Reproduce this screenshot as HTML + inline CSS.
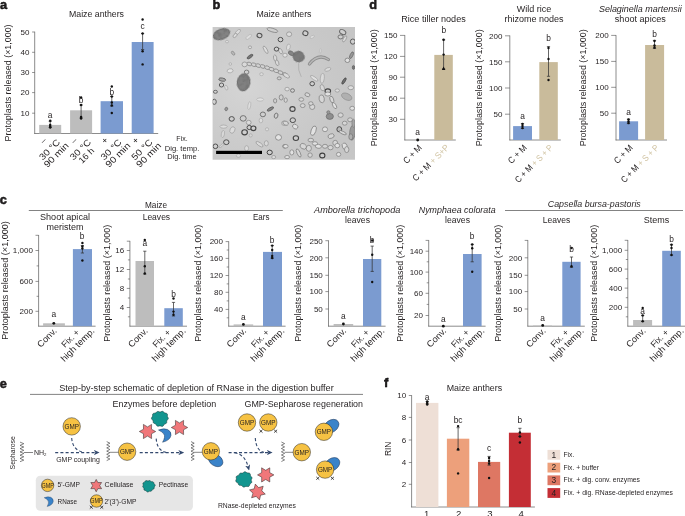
<!DOCTYPE html>
<html><head><meta charset="utf-8"><title>Figure</title>
<style>
html,body{margin:0;padding:0;background:#fff;}
body{width:685px;height:516px;overflow:hidden;font-family:"Liberation Sans",sans-serif;}
svg{display:block;will-change:transform;filter:opacity(1)}
svg text{font-family:"Liberation Sans",sans-serif;fill:#231f20;}
</style></head><body>
<svg width="685" height="516" viewBox="0 0 685 516">
<defs>
<clipPath id="clipb"><rect x="212.6" y="27" width="142.4" height="132.8"/></clipPath>
<radialGradient id="gradb" cx="0.25" cy="0.45" r="0.8"><stop offset="0" stop-color="#d6d6d6" stop-opacity="0.9"/><stop offset="1" stop-color="#c2c2c2" stop-opacity="0.6"/></radialGradient>
<filter id="soft" x="-2%" y="-2%" width="104%" height="104%"><feGaussianBlur stdDeviation="0.35"/></filter>
<filter id="tex" x="-10%" y="-10%" width="120%" height="120%"><feTurbulence type="fractalNoise" baseFrequency="0.28" numOctaves="2" seed="4" result="n"/><feColorMatrix in="n" type="matrix" values="0 0 0 0 0.18  0 0 0 0 0.18  0 0 0 0 0.18  4 0 0 0 -1.7" result="a"/><feComposite in="a" in2="SourceAlpha" operator="in" result="m"/><feMerge><feMergeNode in="SourceGraphic"/><feMergeNode in="m"/></feMerge></filter>
<marker id="arr" viewBox="0 0 6 6" refX="1.5" refY="3" markerWidth="5.2" markerHeight="5.2" orient="auto"><path d="M0 0.3 L6 3 L0 5.7 L1.6 3 Z" fill="#33496e"/></marker>
</defs>
<rect width="685" height="516" fill="#fff"/>
<text x="0.00" y="9.30" font-size="12.8" font-weight="bold" fill="#000" stroke="#000" stroke-width="0.45" stroke-linejoin="round">a</text>
<text x="96.50" y="17.30" font-size="8.4" text-anchor="middle" textLength="55.0" lengthAdjust="spacingAndGlyphs">Maize anthers</text>
<text x="11.20" y="141.40" font-size="8.4" transform="rotate(-90 11.20 141.40)" textLength="117.0" lengthAdjust="spacingAndGlyphs">Protoplasts released (×1,000)</text>
<line x1="34.70" y1="31.70" x2="34.70" y2="133.83" stroke="#4d4d4d" stroke-width="0.65"/>
<line x1="34.37" y1="133.50" x2="158.20" y2="133.50" stroke="#4d4d4d" stroke-width="0.65"/>
<line x1="32.10" y1="32.00" x2="34.70" y2="32.00" stroke="#4d4d4d" stroke-width="0.6"/>
<text x="29.50" y="34.80" font-size="8.0" text-anchor="end">50</text>
<line x1="32.10" y1="52.30" x2="34.70" y2="52.30" stroke="#4d4d4d" stroke-width="0.6"/>
<text x="29.50" y="55.10" font-size="8.0" text-anchor="end">40</text>
<line x1="32.10" y1="72.50" x2="34.70" y2="72.50" stroke="#4d4d4d" stroke-width="0.6"/>
<text x="29.50" y="75.30" font-size="8.0" text-anchor="end">30</text>
<line x1="32.10" y1="92.60" x2="34.70" y2="92.60" stroke="#4d4d4d" stroke-width="0.6"/>
<text x="29.50" y="95.40" font-size="8.0" text-anchor="end">20</text>
<line x1="32.10" y1="113.20" x2="34.70" y2="113.20" stroke="#4d4d4d" stroke-width="0.6"/>
<text x="29.50" y="116.00" font-size="8.0" text-anchor="end">10</text>
<rect x="39.20" y="124.90" width="22.00" height="8.60" fill="#bdbdbd"/>
<rect x="70.10" y="110.30" width="22.00" height="23.20" fill="#bdbdbd"/>
<rect x="100.60" y="101.20" width="22.40" height="32.30" fill="#7b9bd0"/>
<rect x="131.70" y="42.00" width="21.90" height="91.50" fill="#7b9bd0"/>
<line x1="50.20" y1="121.20" x2="50.20" y2="127.50" stroke="#333" stroke-width="0.75"/>
<line x1="48.60" y1="121.20" x2="51.80" y2="121.20" stroke="#2a2a2a" stroke-width="0.7"/>
<line x1="48.60" y1="127.50" x2="51.80" y2="127.50" stroke="#2a2a2a" stroke-width="0.7"/>
<circle cx="50.20" cy="120.80" r="1.2" fill="#111"/>
<circle cx="50.20" cy="125.00" r="1.2" fill="#111"/>
<circle cx="50.20" cy="126.50" r="1.2" fill="#111"/>
<circle cx="50.20" cy="127.50" r="1.2" fill="#111"/>
<line x1="81.10" y1="105.00" x2="81.10" y2="118.00" stroke="#333" stroke-width="0.75"/>
<line x1="79.50" y1="105.00" x2="82.70" y2="105.00" stroke="#2a2a2a" stroke-width="0.7"/>
<line x1="79.50" y1="118.00" x2="82.70" y2="118.00" stroke="#2a2a2a" stroke-width="0.7"/>
<circle cx="81.10" cy="97.50" r="1.2" fill="#111"/>
<circle cx="81.10" cy="105.00" r="1.2" fill="#111"/>
<circle cx="81.10" cy="117.00" r="1.2" fill="#111"/>
<circle cx="81.10" cy="118.50" r="1.2" fill="#111"/>
<line x1="111.80" y1="96.50" x2="111.80" y2="106.00" stroke="#333" stroke-width="0.75"/>
<line x1="110.20" y1="96.50" x2="113.40" y2="96.50" stroke="#2a2a2a" stroke-width="0.7"/>
<line x1="110.20" y1="106.00" x2="113.40" y2="106.00" stroke="#2a2a2a" stroke-width="0.7"/>
<circle cx="111.80" cy="86.50" r="1.2" fill="#111"/>
<circle cx="111.80" cy="96.50" r="1.2" fill="#111"/>
<circle cx="111.80" cy="102.50" r="1.2" fill="#111"/>
<circle cx="111.80" cy="105.50" r="1.2" fill="#111"/>
<circle cx="111.80" cy="113.00" r="1.2" fill="#111"/>
<line x1="142.60" y1="33.50" x2="142.60" y2="49.50" stroke="#333" stroke-width="0.75"/>
<line x1="141.00" y1="33.50" x2="144.20" y2="33.50" stroke="#2a2a2a" stroke-width="0.7"/>
<line x1="141.00" y1="49.50" x2="144.20" y2="49.50" stroke="#2a2a2a" stroke-width="0.7"/>
<circle cx="142.60" cy="19.50" r="1.2" fill="#111"/>
<circle cx="142.60" cy="33.50" r="1.2" fill="#111"/>
<circle cx="142.60" cy="51.30" r="1.2" fill="#111"/>
<circle cx="142.60" cy="64.40" r="1.2" fill="#111"/>
<text x="50.20" y="117.60" font-size="8.4" text-anchor="middle">a</text>
<text x="81.10" y="102.70" font-size="8.4" text-anchor="middle">b</text>
<text x="111.80" y="94.60" font-size="8.4" text-anchor="middle">b</text>
<text x="142.60" y="29.30" font-size="8.4" text-anchor="middle">c</text>
<text x="45.20" y="142.70" font-size="9" text-anchor="middle" transform="rotate(-45 45.20 142.70)">–</text>
<text x="60.70" y="142.70" font-size="9" text-anchor="end" transform="rotate(-45 60.70 142.70)" textLength="25.5" lengthAdjust="spacingAndGlyphs">30 °C</text>
<text x="69.40" y="146.20" font-size="9" text-anchor="end" transform="rotate(-45 69.40 146.20)" textLength="31.0" lengthAdjust="spacingAndGlyphs">90 min</text>
<text x="76.10" y="142.70" font-size="9" text-anchor="middle" transform="rotate(-45 76.10 142.70)">–</text>
<text x="91.60" y="142.70" font-size="9" text-anchor="end" transform="rotate(-45 91.60 142.70)" textLength="25.5" lengthAdjust="spacingAndGlyphs">30 °C</text>
<text x="88.50" y="157.70" font-size="9" text-anchor="middle" transform="rotate(-45 88.50 157.70)" textLength="18.0" lengthAdjust="spacingAndGlyphs">16 h</text>
<text x="106.80" y="142.70" font-size="9" text-anchor="middle" transform="rotate(-45 106.80 142.70)">+</text>
<text x="122.30" y="142.70" font-size="9" text-anchor="end" transform="rotate(-45 122.30 142.70)" textLength="25.5" lengthAdjust="spacingAndGlyphs">30 °C</text>
<text x="131.00" y="146.20" font-size="9" text-anchor="end" transform="rotate(-45 131.00 146.20)" textLength="31.0" lengthAdjust="spacingAndGlyphs">90 min</text>
<text x="137.60" y="142.70" font-size="9" text-anchor="middle" transform="rotate(-45 137.60 142.70)">+</text>
<text x="153.10" y="142.70" font-size="9" text-anchor="end" transform="rotate(-45 153.10 142.70)" textLength="25.5" lengthAdjust="spacingAndGlyphs">50 °C</text>
<text x="161.80" y="146.20" font-size="9" text-anchor="end" transform="rotate(-45 161.80 146.20)" textLength="31.0" lengthAdjust="spacingAndGlyphs">90 min</text>
<text x="182.00" y="141.30" font-size="7" text-anchor="middle">Fix.</text>
<text x="182.00" y="150.50" font-size="7" text-anchor="middle" textLength="34.5" lengthAdjust="spacingAndGlyphs">Dig. temp.</text>
<text x="182.00" y="159.20" font-size="7" text-anchor="middle" textLength="29.5" lengthAdjust="spacingAndGlyphs">Dig. time</text>
<text x="212.50" y="9.30" font-size="12.8" font-weight="bold" fill="#000" stroke="#000" stroke-width="0.45" stroke-linejoin="round">b</text>
<text x="284.00" y="17.30" font-size="8.4" text-anchor="middle" textLength="55.0" lengthAdjust="spacingAndGlyphs">Maize anthers</text>
<g clip-path="url(#clipb)"><g filter="url(#soft)">
<rect x="210.60" y="25.00" width="146.40" height="136.80" fill="#cbcbcb"/>
<rect x="212.6" y="27" width="142.4" height="132.8" fill="url(#gradb)"/>
<ellipse cx="221.5" cy="34.2" rx="8.6" ry="5.0" transform="rotate(-20 221.5 34.2)" fill="#838383" stroke="#5a5a5a" stroke-width="0.8" filter="url(#tex)"/>
<ellipse cx="243.6" cy="82.3" rx="6.3" ry="8.6" transform="rotate(8 243.6 82.3)" fill="#808080" stroke="#5a5a5a" stroke-width="0.8" filter="url(#tex)"/>
<ellipse cx="298.6" cy="56.6" rx="5.6" ry="5.2" transform="rotate(20 298.6 56.6)" fill="#7a7a7a" stroke="#5a5a5a" stroke-width="0.8" filter="url(#tex)"/>
<ellipse cx="291.1" cy="53.2" rx="3" ry="2" transform="rotate(30 291.1 53.2)" fill="#858585" stroke="#606060" stroke-width="0.6" opacity="1"/>
<path d="M309.4 64.0 Q318.3 52.9 328.4 59.5" fill="none" stroke="#8e8e8e" stroke-width="3.2" stroke-linecap="round"/>
<path d="M309.4 64.0 Q318.3 52.9 328.4 59.5" fill="none" stroke="#b8b8b8" stroke-width="1.4" stroke-linecap="round"/>
<path d="M298.6 63.3 Q297.6 70.1 301.3 76.9" fill="none" stroke="#999" stroke-width="0.5"/>
<ellipse cx="249.3" cy="64.0" rx="2.6" ry="1.7" transform="rotate(18 249.3 64.0)" fill="#d3d3d3" stroke="#808080" stroke-width="0.7"/>
<ellipse cx="253.8" cy="64.7" rx="2.6" ry="1.7" transform="rotate(18 253.8 64.7)" fill="#d3d3d3" stroke="#808080" stroke-width="0.7"/>
<ellipse cx="258.3" cy="65.6" rx="2.6" ry="1.7" transform="rotate(18 258.3 65.6)" fill="#d3d3d3" stroke="#808080" stroke-width="0.7"/>
<ellipse cx="262.7" cy="66.5" rx="2.6" ry="1.7" transform="rotate(18 262.7 66.5)" fill="#d3d3d3" stroke="#808080" stroke-width="0.7"/>
<ellipse cx="267.2" cy="67.7" rx="2.6" ry="1.7" transform="rotate(18 267.2 67.7)" fill="#d3d3d3" stroke="#808080" stroke-width="0.7"/>
<ellipse cx="271.6" cy="69.2" rx="2.6" ry="1.7" transform="rotate(18 271.6 69.2)" fill="#d3d3d3" stroke="#808080" stroke-width="0.7"/>
<ellipse cx="276.1" cy="70.8" rx="2.6" ry="1.7" transform="rotate(18 276.1 70.8)" fill="#d3d3d3" stroke="#808080" stroke-width="0.7"/>
<ellipse cx="280.5" cy="72.6" rx="2.6" ry="1.7" transform="rotate(18 280.5 72.6)" fill="#d3d3d3" stroke="#808080" stroke-width="0.7"/>
<ellipse cx="285.0" cy="74.5" rx="2.6" ry="1.7" transform="rotate(18 285.0 74.5)" fill="#d3d3d3" stroke="#808080" stroke-width="0.7"/>
<ellipse cx="277.1" cy="62.7" rx="3" ry="1.6" transform="rotate(70 277.1 62.7)" fill="#d9d9d9" stroke="#858585" stroke-width="0.6" opacity="1"/>
<ellipse cx="275.1" cy="57.9" rx="3" ry="1.6" transform="rotate(80 275.1 57.9)" fill="#d9d9d9" stroke="#858585" stroke-width="0.6" opacity="1"/>
<ellipse cx="280.5" cy="51.1" rx="3" ry="1.6" transform="rotate(60 280.5 51.1)" fill="#d9d9d9" stroke="#858585" stroke-width="0.6" opacity="1"/>
<ellipse cx="250.0" cy="56.6" rx="3.4" ry="1.3" transform="rotate(-35 250.0 56.6)" fill="#777" stroke="#4f4f4f" stroke-width="0.7" opacity="1"/>
<ellipse cx="259.5" cy="35.5" rx="2.5" ry="2.2" transform="rotate(20 259.5 35.5)" fill="#cfcfcf" stroke="#4f4f4f" stroke-width="1.0" opacity="1"/>
<ellipse cx="280.5" cy="39.6" rx="2.4" ry="2.2" transform="rotate(0 280.5 39.6)" fill="#cfcfcf" stroke="#4f4f4f" stroke-width="1.0" opacity="1"/>
<ellipse cx="276.5" cy="49.1" rx="2.3" ry="2.0" transform="rotate(0 276.5 49.1)" fill="#cfcfcf" stroke="#4f4f4f" stroke-width="1.0" opacity="1"/>
<ellipse cx="244.6" cy="64.4" rx="2.6" ry="2.4" transform="rotate(0 244.6 64.4)" fill="#dadada" stroke="#8a8a8a" stroke-width="0.7" opacity="1"/>
<ellipse cx="230.1" cy="70.8" rx="3.0" ry="2.0" transform="rotate(-10 230.1 70.8)" fill="#e4e4e4" stroke="#999" stroke-width="0.6" opacity="1"/>
<ellipse cx="265.6" cy="49.8" rx="4.2" ry="1.5" transform="rotate(60 265.6 49.8)" fill="#dddddd" stroke="#8c8c8c" stroke-width="0.6" opacity="1"/>
<ellipse cx="272.4" cy="30.1" rx="5.5" ry="1.8" transform="rotate(15 272.4 30.1)" fill="#cfcfcf" stroke="#7c7c7c" stroke-width="0.7" opacity="1"/>
<ellipse cx="237.8" cy="32.1" rx="3.5" ry="1.6" transform="rotate(-45 237.8 32.1)" fill="#dddddd" stroke="#999" stroke-width="0.6" opacity="1"/>
<ellipse cx="235.1" cy="35.5" rx="2.5" ry="1.5" transform="rotate(-45 235.1 35.5)" fill="#dddddd" stroke="#8a8a8a" stroke-width="0.6" opacity="1"/>
<ellipse cx="248.7" cy="36.9" rx="3.5" ry="1.5" transform="rotate(-40 248.7 36.9)" fill="#dedede" stroke="#aaa" stroke-width="0.5" opacity="1"/>
<ellipse cx="233.1" cy="53.2" rx="2.2" ry="1.3" transform="rotate(50 233.1 53.2)" fill="#bbb" stroke="#7d7d7d" stroke-width="0.6" opacity="1"/>
<ellipse cx="222.2" cy="79.6" rx="3.5" ry="1.6" transform="rotate(10 222.2 79.6)" fill="#aaa" stroke="#4f4f4f" stroke-width="0.7" opacity="1"/>
<ellipse cx="221.5" cy="85.0" rx="2.2" ry="2.0" transform="rotate(0 221.5 85.0)" fill="#cfcfcf" stroke="#4f4f4f" stroke-width="0.9" opacity="1"/>
<ellipse cx="246.6" cy="72.1" rx="2.3" ry="2.0" transform="rotate(0 246.6 72.1)" fill="#cfcfcf" stroke="#6a6a6a" stroke-width="0.8" opacity="1"/>
<ellipse cx="226.3" cy="87.7" rx="2.5" ry="1.4" transform="rotate(70 226.3 87.7)" fill="#dddddd" stroke="#999" stroke-width="0.5" opacity="1"/>
<ellipse cx="261.5" cy="74.2" rx="1.8" ry="1.5" transform="rotate(0 261.5 74.2)" fill="#dddddd" stroke="#999" stroke-width="0.5" opacity="1"/>
<ellipse cx="230.3" cy="64.0" rx="1.3" ry="1.3" transform="rotate(0 230.3 64.0)" fill="#dddddd" stroke="#999" stroke-width="0.5" opacity="1"/>
<ellipse cx="227.0" cy="41.6" rx="1.5" ry="1.3" transform="rotate(0 227.0 41.6)" fill="#dddddd" stroke="#999" stroke-width="0.5" opacity="1"/>
<ellipse cx="250.0" cy="47.3" rx="1.6" ry="1.4" transform="rotate(0 250.0 47.3)" fill="#dddddd" stroke="#888" stroke-width="0.6" opacity="1"/>
<ellipse cx="279.2" cy="78.3" rx="2.0" ry="1.5" transform="rotate(0 279.2 78.3)" fill="#cfcfcf" stroke="#777" stroke-width="0.7" opacity="1"/>
<ellipse cx="215.4" cy="91.8" rx="2.0" ry="1.5" transform="rotate(0 215.4 91.8)" fill="#cfcfcf" stroke="#4f4f4f" stroke-width="0.8" opacity="1"/>
<ellipse cx="305.4" cy="33.2" rx="2.6" ry="2.3" transform="rotate(20 305.4 33.2)" fill="#cfcfcf" stroke="#4f4f4f" stroke-width="1.0" opacity="1"/>
<ellipse cx="289.1" cy="34.2" rx="2.6" ry="2.3" transform="rotate(0 289.1 34.2)" fill="#dcdcdc" stroke="#8a8a8a" stroke-width="0.7" opacity="1"/>
<ellipse cx="312.2" cy="36.9" rx="2.4" ry="1.2" transform="rotate(-30 312.2 36.9)" fill="#dedede" stroke="#aaa" stroke-width="0.5" opacity="1"/>
<ellipse cx="342.7" cy="32.1" rx="3.4" ry="2.2" transform="rotate(30 342.7 32.1)" fill="#cfcfcf" stroke="#666" stroke-width="0.9" opacity="1"/>
<ellipse cx="340.6" cy="36.9" rx="2.6" ry="2.0" transform="rotate(0 340.6 36.9)" fill="#cfcfcf" stroke="#6c6c6c" stroke-width="0.9" opacity="1"/>
<ellipse cx="352.8" cy="41.6" rx="2.4" ry="2.6" transform="rotate(0 352.8 41.6)" fill="#cfcfcf" stroke="#4f4f4f" stroke-width="0.9" opacity="1"/>
<ellipse cx="344.7" cy="38.9" rx="3.5" ry="1.3" transform="rotate(-60 344.7 38.9)" fill="#dddddd" stroke="#8a8a8a" stroke-width="0.6" opacity="1"/>
<ellipse cx="351.5" cy="55.2" rx="3.6" ry="1.4" transform="rotate(-65 351.5 55.2)" fill="#999" stroke="#666" stroke-width="0.7" opacity="1"/>
<ellipse cx="347.4" cy="60.3" rx="2.4" ry="2.2" transform="rotate(0 347.4 60.3)" fill="#e0e0e0" stroke="#7a7a7a" stroke-width="0.8" opacity="1"/>
<ellipse cx="344.0" cy="81.0" rx="3.6" ry="1.2" transform="rotate(-58 344.0 81.0)" fill="#6e6e6e" stroke="#4a4a4a" stroke-width="0.7" opacity="1"/>
<ellipse cx="312.2" cy="83.7" rx="2.3" ry="2.1" transform="rotate(0 312.2 83.7)" fill="#cfcfcf" stroke="#4f4f4f" stroke-width="1.0" opacity="1"/>
<ellipse cx="286.4" cy="75.5" rx="3.6" ry="1.8" transform="rotate(35 286.4 75.5)" fill="#dadada" stroke="#8a8a8a" stroke-width="0.6" opacity="1"/>
<ellipse cx="322.3" cy="78.3" rx="2.0" ry="5.0" transform="rotate(5 322.3 78.3)" fill="#dadada" stroke="#9a9a9a" stroke-width="0.6" opacity="1"/>
<ellipse cx="327.8" cy="91.1" rx="2.8" ry="2.2" transform="rotate(0 327.8 91.1)" fill="#cfcfcf" stroke="#444" stroke-width="1.1" opacity="1"/>
<ellipse cx="314.2" cy="78.3" rx="4.5" ry="1.5" transform="rotate(35 314.2 78.3)" fill="#dfdfdf" stroke="#999" stroke-width="0.6" opacity="1"/>
<ellipse cx="327.8" cy="69.4" rx="3.2" ry="1.6" transform="rotate(-20 327.8 69.4)" fill="#dcdcdc" stroke="#9a9a9a" stroke-width="0.6" opacity="1"/>
<ellipse cx="288.4" cy="47.1" rx="1.8" ry="3.2" transform="rotate(15 288.4 47.1)" fill="#dedede" stroke="#a0a0a0" stroke-width="0.6" opacity="1"/>
<ellipse cx="285.0" cy="55.2" rx="2.2" ry="2.0" transform="rotate(0 285.0 55.2)" fill="#e2e2e2" stroke="#8a8a8a" stroke-width="0.6" opacity="1"/>
<ellipse cx="292.5" cy="90.5" rx="2.0" ry="1.8" transform="rotate(0 292.5 90.5)" fill="#cfcfcf" stroke="#666" stroke-width="0.8" opacity="1"/>
<ellipse cx="287.1" cy="89.1" rx="2.2" ry="1.8" transform="rotate(0 287.1 89.1)" fill="#e0e0e0" stroke="#8a8a8a" stroke-width="0.6" opacity="1"/>
<ellipse cx="322.3" cy="87.7" rx="2.0" ry="3.2" transform="rotate(-20 322.3 87.7)" fill="#d8d8d8" stroke="#8a8a8a" stroke-width="0.6" opacity="1"/>
<ellipse cx="337.3" cy="90.5" rx="2.2" ry="1.6" transform="rotate(0 337.3 90.5)" fill="#ddd" stroke="#8a8a8a" stroke-width="0.6" opacity="1"/>
<ellipse cx="350.8" cy="87.7" rx="2.8" ry="2.0" transform="rotate(0 350.8 87.7)" fill="#e0e0e0" stroke="#888" stroke-width="0.7" opacity="1"/>
<ellipse cx="320.3" cy="51.1" rx="0.8" ry="2.6" transform="rotate(10 320.3 51.1)" fill="#ddd" stroke="#aaa" stroke-width="0.4" opacity="1"/>
<ellipse cx="353.5" cy="67.4" rx="1.2" ry="2.0" transform="rotate(0 353.5 67.4)" fill="#777" stroke="#555" stroke-width="0.6" opacity="1"/>
<ellipse cx="231.7" cy="118.9" rx="2.6" ry="2.3" transform="rotate(0 231.7 118.9)" fill="#cfcfcf" stroke="#4f4f4f" stroke-width="1.0" opacity="1"/>
<ellipse cx="243.2" cy="118.4" rx="3.0" ry="2.8" transform="rotate(0 243.2 118.4)" fill="#cfcfcf" stroke="#6a6a6a" stroke-width="0.9" opacity="1"/>
<ellipse cx="248.7" cy="122.5" rx="2.4" ry="2.2" transform="rotate(0 248.7 122.5)" fill="#dcdcdc" stroke="#8a8a8a" stroke-width="0.7" opacity="1"/>
<ellipse cx="249.3" cy="127.5" rx="2.3" ry="2.1" transform="rotate(0 249.3 127.5)" fill="#cfcfcf" stroke="#4f4f4f" stroke-width="1.0" opacity="1"/>
<ellipse cx="253.4" cy="128.3" rx="2.5" ry="2.3" transform="rotate(0 253.4 128.3)" fill="#cfcfcf" stroke="#444" stroke-width="1.1" opacity="1"/>
<ellipse cx="244.6" cy="132.3" rx="2.8" ry="2.6" transform="rotate(0 244.6 132.3)" fill="#cfcfcf" stroke="#444" stroke-width="1.1" opacity="1"/>
<ellipse cx="226.3" cy="142.2" rx="2.7" ry="2.4" transform="rotate(0 226.3 142.2)" fill="#cfcfcf" stroke="#4f4f4f" stroke-width="1.0" opacity="1"/>
<ellipse cx="215.4" cy="146.3" rx="2.4" ry="2.3" transform="rotate(0 215.4 146.3)" fill="#cfcfcf" stroke="#4f4f4f" stroke-width="1.0" opacity="1"/>
<ellipse cx="262.9" cy="114.4" rx="2.6" ry="2.4" transform="rotate(0 262.9 114.4)" fill="#cfcfcf" stroke="#6a6a6a" stroke-width="0.9" opacity="1"/>
<ellipse cx="270.4" cy="109.0" rx="3.6" ry="1.3" transform="rotate(-30 270.4 109.0)" fill="#888" stroke="#555" stroke-width="0.7" opacity="1"/>
<ellipse cx="276.1" cy="115.7" rx="1.8" ry="2.6" transform="rotate(15 276.1 115.7)" fill="#cfcfcf" stroke="#666" stroke-width="0.8" opacity="1"/>
<ellipse cx="278.5" cy="137.4" rx="3.0" ry="2.8" transform="rotate(0 278.5 137.4)" fill="#e4e4e4" stroke="#7d7d7d" stroke-width="0.8" opacity="1"/>
<ellipse cx="269.7" cy="152.4" rx="2.6" ry="2.3" transform="rotate(0 269.7 152.4)" fill="#cfcfcf" stroke="#444" stroke-width="1.0" opacity="1"/>
<ellipse cx="214.3" cy="101.8" rx="2.0" ry="2.6" transform="rotate(0 214.3 101.8)" fill="#cfcfcf" stroke="#555" stroke-width="0.9" opacity="1"/>
<ellipse cx="226.3" cy="109.0" rx="1.4" ry="1.8" transform="rotate(20 226.3 109.0)" fill="#999" stroke="#666" stroke-width="0.6" opacity="1"/>
<ellipse cx="259.5" cy="144.2" rx="4.2" ry="1.6" transform="rotate(35 259.5 144.2)" fill="#dadada" stroke="#8f8f8f" stroke-width="0.6" opacity="1"/>
<ellipse cx="266.3" cy="143.3" rx="2.0" ry="2.6" transform="rotate(0 266.3 143.3)" fill="#d9d9d9" stroke="#8f8f8f" stroke-width="0.6" opacity="1"/>
<ellipse cx="246.6" cy="148.3" rx="2.0" ry="2.6" transform="rotate(0 246.6 148.3)" fill="#dcdcdc" stroke="#9a9a9a" stroke-width="0.6" opacity="1"/>
<ellipse cx="223.6" cy="126.6" rx="3.6" ry="1.6" transform="rotate(0 223.6 126.6)" fill="#dedede" stroke="#9a9a9a" stroke-width="0.6" opacity="1"/>
<ellipse cx="222.9" cy="134.0" rx="1.6" ry="3.6" transform="rotate(10 222.9 134.0)" fill="#d8d8d8" stroke="#999" stroke-width="0.5" opacity="1"/>
<ellipse cx="232.4" cy="130.0" rx="2.4" ry="3.4" transform="rotate(25 232.4 130.0)" fill="#dcdcdc" stroke="#999" stroke-width="0.6" opacity="1"/>
<ellipse cx="249.3" cy="105.6" rx="1.4" ry="4.0" transform="rotate(10 249.3 105.6)" fill="#dedede" stroke="#a5a5a5" stroke-width="0.5" opacity="1"/>
<ellipse cx="260.2" cy="99.5" rx="3.5" ry="1.6" transform="rotate(0 260.2 99.5)" fill="#e2e2e2" stroke="#a0a0a0" stroke-width="0.5" opacity="1"/>
<ellipse cx="260.9" cy="120.5" rx="1.8" ry="2.4" transform="rotate(0 260.9 120.5)" fill="#ddd" stroke="#999" stroke-width="0.5" opacity="1"/>
<ellipse cx="267.0" cy="129.3" rx="1.6" ry="1.6" transform="rotate(0 267.0 129.3)" fill="#ddd" stroke="#999" stroke-width="0.5" opacity="1"/>
<ellipse cx="250.7" cy="135.4" rx="1.6" ry="1.6" transform="rotate(0 250.7 135.4)" fill="#d6d6d6" stroke="#999" stroke-width="0.5" opacity="1"/>
<ellipse cx="283.9" cy="123.2" rx="2.2" ry="2.2" transform="rotate(0 283.9 123.2)" fill="#e2e2e2" stroke="#888" stroke-width="0.7" opacity="1"/>
<ellipse cx="284.6" cy="146.3" rx="2.0" ry="1.8" transform="rotate(0 284.6 146.3)" fill="#cfcfcf" stroke="#777" stroke-width="0.7" opacity="1"/>
<ellipse cx="238.5" cy="155.7" rx="2.2" ry="1.6" transform="rotate(0 238.5 155.7)" fill="#ddd" stroke="#999" stroke-width="0.5" opacity="1"/>
<ellipse cx="273.7" cy="157.1" rx="2.0" ry="1.6" transform="rotate(0 273.7 157.1)" fill="#ddd" stroke="#888" stroke-width="0.6" opacity="1"/>
<ellipse cx="221.5" cy="145.6" rx="3.0" ry="1.0" transform="rotate(-40 221.5 145.6)" fill="#d6d6d6" stroke="#999" stroke-width="0.5" opacity="1"/>
<ellipse cx="281.2" cy="97.4" rx="2.0" ry="2.6" transform="rotate(0 281.2 97.4)" fill="#cfcfcf" stroke="#777" stroke-width="0.7" opacity="1"/>
<ellipse cx="275.1" cy="100.8" rx="1.6" ry="2.2" transform="rotate(0 275.1 100.8)" fill="#cfcfcf" stroke="#777" stroke-width="0.7" opacity="1"/>
<ellipse cx="292.5" cy="109.0" rx="2.6" ry="2.4" transform="rotate(0 292.5 109.0)" fill="#cfcfcf" stroke="#444" stroke-width="1.1" opacity="1"/>
<ellipse cx="292.8" cy="120.2" rx="2.7" ry="2.4" transform="rotate(0 292.8 120.2)" fill="#cfcfcf" stroke="#4f4f4f" stroke-width="1.0" opacity="1"/>
<ellipse cx="295.9" cy="138.1" rx="2.7" ry="2.4" transform="rotate(0 295.9 138.1)" fill="#cfcfcf" stroke="#444" stroke-width="1.1" opacity="1"/>
<ellipse cx="322.3" cy="155.5" rx="2.6" ry="2.4" transform="rotate(0 322.3 155.5)" fill="#cfcfcf" stroke="#3f3f3f" stroke-width="1.1" opacity="1"/>
<ellipse cx="339.3" cy="129.3" rx="2.4" ry="2.6" transform="rotate(0 339.3 129.3)" fill="#bbb" stroke="#4a4a4a" stroke-width="1.0" opacity="1"/>
<ellipse cx="329.8" cy="116.4" rx="3.6" ry="3.0" transform="rotate(0 329.8 116.4)" fill="#8e8e8e" stroke="#666" stroke-width="0.7" opacity="1"/>
<ellipse cx="328.4" cy="112.3" rx="1.6" ry="1.6" transform="rotate(0 328.4 112.3)" fill="#999" stroke="#666" stroke-width="0.6" opacity="1"/>
<ellipse cx="302.7" cy="105.6" rx="2.4" ry="2.0" transform="rotate(0 302.7 105.6)" fill="#d7d7d7" stroke="#7c7c7c" stroke-width="0.7" opacity="1"/>
<ellipse cx="307.4" cy="94.7" rx="2.6" ry="1.8" transform="rotate(20 307.4 94.7)" fill="#d7d7d7" stroke="#7c7c7c" stroke-width="0.7" opacity="1"/>
<ellipse cx="312.2" cy="106.9" rx="2.6" ry="2.6" transform="rotate(0 312.2 106.9)" fill="#d7d7d7" stroke="#7c7c7c" stroke-width="0.7" opacity="1"/>
<ellipse cx="321.7" cy="98.8" rx="2.6" ry="4.0" transform="rotate(-10 321.7 98.8)" fill="#d7d7d7" stroke="#7c7c7c" stroke-width="0.7" opacity="1"/>
<ellipse cx="295.2" cy="126.6" rx="2.8" ry="2.2" transform="rotate(30 295.2 126.6)" fill="#e2e2e2" stroke="#7c7c7c" stroke-width="0.7" opacity="1"/>
<ellipse cx="285.7" cy="123.2" rx="2.8" ry="2.0" transform="rotate(20 285.7 123.2)" fill="#d7d7d7" stroke="#7c7c7c" stroke-width="0.7" opacity="1"/>
<ellipse cx="313.5" cy="130.7" rx="2.4" ry="5.0" transform="rotate(20 313.5 130.7)" fill="#e2e2e2" stroke="#7c7c7c" stroke-width="0.7" opacity="1"/>
<ellipse cx="325.0" cy="129.3" rx="2.6" ry="2.4" transform="rotate(0 325.0 129.3)" fill="#e2e2e2" stroke="#7c7c7c" stroke-width="0.7" opacity="1"/>
<ellipse cx="331.1" cy="136.1" rx="3.2" ry="2.2" transform="rotate(-20 331.1 136.1)" fill="#d7d7d7" stroke="#7c7c7c" stroke-width="0.7" opacity="1"/>
<ellipse cx="335.2" cy="142.9" rx="2.4" ry="2.6" transform="rotate(0 335.2 142.9)" fill="#d7d7d7" stroke="#7c7c7c" stroke-width="0.7" opacity="1"/>
<ellipse cx="303.3" cy="146.3" rx="3.4" ry="2.6" transform="rotate(30 303.3 146.3)" fill="#d7d7d7" stroke="#7c7c7c" stroke-width="0.7" opacity="1"/>
<ellipse cx="308.8" cy="148.3" rx="2.6" ry="3.0" transform="rotate(0 308.8 148.3)" fill="#d7d7d7" stroke="#7c7c7c" stroke-width="0.7" opacity="1"/>
<ellipse cx="318.3" cy="146.3" rx="3.2" ry="2.0" transform="rotate(10 318.3 146.3)" fill="#e2e2e2" stroke="#7c7c7c" stroke-width="0.7" opacity="1"/>
<ellipse cx="330.5" cy="147.6" rx="2.6" ry="2.2" transform="rotate(0 330.5 147.6)" fill="#d7d7d7" stroke="#7c7c7c" stroke-width="0.7" opacity="1"/>
<ellipse cx="340.6" cy="115.1" rx="2.6" ry="2.2" transform="rotate(0 340.6 115.1)" fill="#d7d7d7" stroke="#7c7c7c" stroke-width="0.7" opacity="1"/>
<ellipse cx="350.1" cy="119.8" rx="2.4" ry="2.0" transform="rotate(0 350.1 119.8)" fill="#d7d7d7" stroke="#7c7c7c" stroke-width="0.7" opacity="1"/>
<ellipse cx="352.2" cy="108.3" rx="2.4" ry="2.0" transform="rotate(0 352.2 108.3)" fill="#e2e2e2" stroke="#7c7c7c" stroke-width="0.7" opacity="1"/>
<ellipse cx="344.7" cy="146.3" rx="2.4" ry="3.4" transform="rotate(-20 344.7 146.3)" fill="#e2e2e2" stroke="#7c7c7c" stroke-width="0.7" opacity="1"/>
<ellipse cx="285.7" cy="146.3" rx="2.4" ry="1.8" transform="rotate(0 285.7 146.3)" fill="#e2e2e2" stroke="#7c7c7c" stroke-width="0.7" opacity="1"/>
<ellipse cx="298.6" cy="153.0" rx="1.6" ry="4.5" transform="rotate(-25 298.6 153.0)" fill="#d7d7d7" stroke="#7c7c7c" stroke-width="0.7" opacity="1"/>
<ellipse cx="338.6" cy="154.4" rx="2.2" ry="2.0" transform="rotate(0 338.6 154.4)" fill="#e2e2e2" stroke="#7c7c7c" stroke-width="0.7" opacity="1"/>
<ellipse cx="301.3" cy="99.5" rx="2.4" ry="1.8" transform="rotate(0 301.3 99.5)" fill="#d7d7d7" stroke="#7c7c7c" stroke-width="0.7" opacity="1"/>
<ellipse cx="310.8" cy="103.5" rx="2.2" ry="1.8" transform="rotate(0 310.8 103.5)" fill="#d7d7d7" stroke="#7c7c7c" stroke-width="0.7" opacity="1"/>
<ellipse cx="331.8" cy="99.5" rx="1.8" ry="3.4" transform="rotate(-20 331.8 99.5)" fill="#d7d7d7" stroke="#7c7c7c" stroke-width="0.7" opacity="1"/>
<ellipse cx="334.5" cy="105.6" rx="1.6" ry="3.4" transform="rotate(-30 334.5 105.6)" fill="#e2e2e2" stroke="#7c7c7c" stroke-width="0.7" opacity="1"/>
<ellipse cx="344.7" cy="123.2" rx="2.4" ry="2.0" transform="rotate(0 344.7 123.2)" fill="#d7d7d7" stroke="#7c7c7c" stroke-width="0.7" opacity="1"/>
<ellipse cx="310.8" cy="140.1" rx="2.8" ry="1.8" transform="rotate(0 310.8 140.1)" fill="#d7d7d7" stroke="#7c7c7c" stroke-width="0.7" opacity="1"/>
<ellipse cx="314.9" cy="143.5" rx="2.6" ry="1.8" transform="rotate(0 314.9 143.5)" fill="#e2e2e2" stroke="#7c7c7c" stroke-width="0.7" opacity="1"/>
<ellipse cx="325.0" cy="146.3" rx="2.6" ry="2.0" transform="rotate(0 325.0 146.3)" fill="#d7d7d7" stroke="#7c7c7c" stroke-width="0.7" opacity="1"/>
<ellipse cx="337.3" cy="145.6" rx="2.4" ry="2.2" transform="rotate(0 337.3 145.6)" fill="#e2e2e2" stroke="#7c7c7c" stroke-width="0.7" opacity="1"/>
<ellipse cx="346.7" cy="149.6" rx="2.2" ry="3.0" transform="rotate(0 346.7 149.6)" fill="#d7d7d7" stroke="#7c7c7c" stroke-width="0.7" opacity="1"/>
<ellipse cx="291.8" cy="152.4" rx="2.0" ry="2.6" transform="rotate(0 291.8 152.4)" fill="#e2e2e2" stroke="#7c7c7c" stroke-width="0.7" opacity="1"/>
<ellipse cx="287.1" cy="157.1" rx="2.4" ry="1.6" transform="rotate(0 287.1 157.1)" fill="#e2e2e2" stroke="#7c7c7c" stroke-width="0.7" opacity="1"/>
<ellipse cx="310.1" cy="155.1" rx="2.2" ry="2.2" transform="rotate(0 310.1 155.1)" fill="#d7d7d7" stroke="#7c7c7c" stroke-width="0.7" opacity="1"/>
<ellipse cx="342.7" cy="132.7" rx="4.0" ry="1.4" transform="rotate(25 342.7 132.7)" fill="#d7d7d7" stroke="#7c7c7c" stroke-width="0.7" opacity="1"/>
<ellipse cx="327.8" cy="94.0" rx="3.0" ry="2.0" transform="rotate(0 327.8 94.0)" fill="#e2e2e2" stroke="#7c7c7c" stroke-width="0.7" opacity="1"/>
<ellipse cx="285.7" cy="100.1" rx="1.6" ry="2.2" transform="rotate(0 285.7 100.1)" fill="#d7d7d7" stroke="#7c7c7c" stroke-width="0.7" opacity="1"/>
<ellipse cx="352.4" cy="132.7" rx="2.8" ry="7.5" transform="rotate(5 352.4 132.7)" fill="#9a9a9a" stroke="#707070" stroke-width="0.6" opacity="1"/>
<ellipse cx="350.8" cy="136.8" rx="2.0" ry="3.0" transform="rotate(0 350.8 136.8)" fill="#b0b0b0" stroke="#6a6a6a" stroke-width="0.6" opacity="1"/>
<ellipse cx="346.7" cy="96.7" rx="5.5" ry="3.2" transform="rotate(25 346.7 96.7)" fill="#b0b0b0" stroke="#8a8a8a" stroke-width="0.6" opacity="1"/>
<ellipse cx="353.5" cy="123.2" rx="1.6" ry="4.0" transform="rotate(0 353.5 123.2)" fill="#a5a5a5" stroke="#777" stroke-width="0.6" opacity="1"/>
</g></g>
<rect x="216.10" y="150.80" width="45.90" height="3.20" fill="#000"/>
<text x="-0.20" y="203.80" font-size="12.8" font-weight="bold" fill="#000" stroke="#000" stroke-width="0.45" stroke-linejoin="round">c</text>
<text x="156.00" y="207.60" font-size="8.4" text-anchor="middle" textLength="22.0" lengthAdjust="spacingAndGlyphs">Maize</text>
<line x1="28.80" y1="210.50" x2="282.80" y2="210.50" stroke="#4d4d4d" stroke-width="0.7"/>
<text x="594.30" y="206.90" font-size="8.4" text-anchor="middle" font-style="italic" textLength="93.0" lengthAdjust="spacingAndGlyphs">Capsella bursa-pastoris</text>
<line x1="505.00" y1="210.50" x2="683.00" y2="210.50" stroke="#4d4d4d" stroke-width="0.7"/>
<text x="65.00" y="220.30" font-size="8.4" text-anchor="middle" textLength="50.0" lengthAdjust="spacingAndGlyphs">Shoot apical</text>
<text x="65.00" y="229.60" font-size="8.4" text-anchor="middle" textLength="37.0" lengthAdjust="spacingAndGlyphs">meristem</text>
<text x="7.60" y="339.80" font-size="8.4" transform="rotate(-90 7.60 339.80)" textLength="118.5" lengthAdjust="spacingAndGlyphs">Protoplasts released (×1,000)</text>
<line x1="38.60" y1="235.00" x2="38.60" y2="326.53" stroke="#4d4d4d" stroke-width="0.65"/>
<line x1="38.27" y1="326.20" x2="95.60" y2="326.20" stroke="#4d4d4d" stroke-width="0.65"/>
<line x1="35.50" y1="235.30" x2="38.60" y2="235.30" stroke="#4d4d4d" stroke-width="0.6"/>
<line x1="35.50" y1="250.50" x2="38.60" y2="250.50" stroke="#4d4d4d" stroke-width="0.6"/>
<text x="32.90" y="253.30" font-size="8.0" text-anchor="end">1,000</text>
<line x1="35.50" y1="281.40" x2="38.60" y2="281.40" stroke="#4d4d4d" stroke-width="0.6"/>
<text x="32.90" y="284.20" font-size="8.0" text-anchor="end">600</text>
<line x1="35.50" y1="311.30" x2="38.60" y2="311.30" stroke="#4d4d4d" stroke-width="0.6"/>
<text x="32.90" y="314.10" font-size="8.0" text-anchor="end">200</text>
<line x1="36.60" y1="265.90" x2="38.60" y2="265.90" stroke="#4d4d4d" stroke-width="0.6"/>
<line x1="36.60" y1="296.30" x2="38.60" y2="296.30" stroke="#4d4d4d" stroke-width="0.6"/>
<rect x="43.10" y="323.30" width="21.80" height="2.90" fill="#bdbdbd"/>
<rect x="72.90" y="249.10" width="19.10" height="77.10" fill="#7b9bd0"/>
<circle cx="53.80" cy="323.30" r="1.4" fill="#111"/>
<line x1="82.40" y1="245.50" x2="82.40" y2="253.00" stroke="#333" stroke-width="0.75"/>
<line x1="80.80" y1="245.50" x2="84.00" y2="245.50" stroke="#2a2a2a" stroke-width="0.7"/>
<line x1="80.80" y1="253.00" x2="84.00" y2="253.00" stroke="#2a2a2a" stroke-width="0.7"/>
<circle cx="82.40" cy="243.00" r="1.2" fill="#111"/>
<circle cx="82.40" cy="246.50" r="1.2" fill="#111"/>
<circle cx="82.40" cy="248.50" r="1.2" fill="#111"/>
<circle cx="82.40" cy="260.50" r="1.2" fill="#111"/>
<text x="82.20" y="238.60" font-size="8.4" text-anchor="middle">b</text>
<text x="53.80" y="316.90" font-size="8.4" text-anchor="middle">a</text>
<text x="57.30" y="331.50" font-size="9" text-anchor="end" transform="rotate(-45 57.30 331.50)" textLength="23.4" lengthAdjust="spacingAndGlyphs">Conv.</text>
<text x="80.10" y="333.00" font-size="9" text-anchor="end" transform="rotate(-45 80.10 333.00)" textLength="21.3" lengthAdjust="spacingAndGlyphs">Fix. +</text>
<text x="95.20" y="331.40" font-size="9" text-anchor="end" transform="rotate(-45 95.20 331.40)" textLength="43.5" lengthAdjust="spacingAndGlyphs">high temp.</text>
<text x="156.40" y="219.80" font-size="8.4" text-anchor="middle" textLength="27.5" lengthAdjust="spacingAndGlyphs">Leaves</text>
<text x="109.60" y="341.80" font-size="8.4" transform="rotate(-90 109.60 341.80)" textLength="117.0" lengthAdjust="spacingAndGlyphs">Protoplasts released (×1,000)</text>
<line x1="129.90" y1="240.90" x2="129.90" y2="326.53" stroke="#4d4d4d" stroke-width="0.65"/>
<line x1="129.57" y1="326.20" x2="187.00" y2="326.20" stroke="#4d4d4d" stroke-width="0.65"/>
<line x1="126.80" y1="241.20" x2="129.90" y2="241.20" stroke="#4d4d4d" stroke-width="0.6"/>
<line x1="126.80" y1="250.50" x2="129.90" y2="250.50" stroke="#4d4d4d" stroke-width="0.6"/>
<text x="124.20" y="253.30" font-size="8.0" text-anchor="end">16</text>
<line x1="126.80" y1="269.50" x2="129.90" y2="269.50" stroke="#4d4d4d" stroke-width="0.6"/>
<text x="124.20" y="272.30" font-size="8.0" text-anchor="end">12</text>
<line x1="126.80" y1="288.40" x2="129.90" y2="288.40" stroke="#4d4d4d" stroke-width="0.6"/>
<text x="124.20" y="291.20" font-size="8.0" text-anchor="end">8</text>
<line x1="126.80" y1="307.50" x2="129.90" y2="307.50" stroke="#4d4d4d" stroke-width="0.6"/>
<text x="124.20" y="310.30" font-size="8.0" text-anchor="end">4</text>
<line x1="127.90" y1="259.90" x2="129.90" y2="259.90" stroke="#4d4d4d" stroke-width="0.6"/>
<line x1="127.90" y1="279.00" x2="129.90" y2="279.00" stroke="#4d4d4d" stroke-width="0.6"/>
<line x1="127.90" y1="298.00" x2="129.90" y2="298.00" stroke="#4d4d4d" stroke-width="0.6"/>
<line x1="127.90" y1="316.80" x2="129.90" y2="316.80" stroke="#4d4d4d" stroke-width="0.6"/>
<rect x="135.50" y="261.00" width="18.50" height="65.20" fill="#bdbdbd"/>
<rect x="164.30" y="308.20" width="18.50" height="18.00" fill="#7b9bd0"/>
<line x1="144.80" y1="251.20" x2="144.80" y2="274.00" stroke="#333" stroke-width="0.75"/>
<line x1="143.20" y1="251.20" x2="146.40" y2="251.20" stroke="#2a2a2a" stroke-width="0.7"/>
<line x1="143.20" y1="274.00" x2="146.40" y2="274.00" stroke="#2a2a2a" stroke-width="0.7"/>
<circle cx="144.80" cy="240.00" r="1.2" fill="#111"/>
<circle cx="144.80" cy="266.20" r="1.2" fill="#111"/>
<circle cx="144.80" cy="273.50" r="1.2" fill="#111"/>
<line x1="173.50" y1="302.40" x2="173.50" y2="316.00" stroke="#333" stroke-width="0.75"/>
<line x1="171.90" y1="302.40" x2="175.10" y2="302.40" stroke="#2a2a2a" stroke-width="0.7"/>
<line x1="171.90" y1="316.00" x2="175.10" y2="316.00" stroke="#2a2a2a" stroke-width="0.7"/>
<circle cx="173.50" cy="298.50" r="1.2" fill="#111"/>
<circle cx="173.50" cy="311.60" r="1.2" fill="#111"/>
<circle cx="173.50" cy="314.80" r="1.2" fill="#111"/>
<text x="144.80" y="246.00" font-size="8.4" text-anchor="middle">a</text>
<text x="173.50" y="296.80" font-size="8.4" text-anchor="middle">b</text>
<text x="148.30" y="331.50" font-size="9" text-anchor="end" transform="rotate(-45 148.30 331.50)" textLength="23.4" lengthAdjust="spacingAndGlyphs">Conv.</text>
<text x="171.20" y="333.00" font-size="9" text-anchor="end" transform="rotate(-45 171.20 333.00)" textLength="21.3" lengthAdjust="spacingAndGlyphs">Fix. +</text>
<text x="186.30" y="331.40" font-size="9" text-anchor="end" transform="rotate(-45 186.30 331.40)" textLength="43.5" lengthAdjust="spacingAndGlyphs">high temp.</text>
<text x="261.20" y="219.80" font-size="8.4" text-anchor="middle" textLength="16.5" lengthAdjust="spacingAndGlyphs">Ears</text>
<text x="201.50" y="341.80" font-size="8.4" transform="rotate(-90 201.50 341.80)" textLength="117.0" lengthAdjust="spacingAndGlyphs">Protoplasts released (×1,000)</text>
<line x1="228.70" y1="241.30" x2="228.70" y2="326.53" stroke="#4d4d4d" stroke-width="0.65"/>
<line x1="228.37" y1="326.20" x2="285.60" y2="326.20" stroke="#4d4d4d" stroke-width="0.65"/>
<line x1="225.60" y1="241.60" x2="228.70" y2="241.60" stroke="#4d4d4d" stroke-width="0.6"/>
<text x="223.00" y="244.40" font-size="8.0" text-anchor="end">200</text>
<line x1="225.60" y1="258.40" x2="228.70" y2="258.40" stroke="#4d4d4d" stroke-width="0.6"/>
<text x="223.00" y="261.20" font-size="8.0" text-anchor="end">160</text>
<line x1="225.60" y1="275.50" x2="228.70" y2="275.50" stroke="#4d4d4d" stroke-width="0.6"/>
<text x="223.00" y="278.30" font-size="8.0" text-anchor="end">120</text>
<line x1="225.60" y1="292.30" x2="228.70" y2="292.30" stroke="#4d4d4d" stroke-width="0.6"/>
<text x="223.00" y="295.10" font-size="8.0" text-anchor="end">80</text>
<line x1="225.60" y1="309.40" x2="228.70" y2="309.40" stroke="#4d4d4d" stroke-width="0.6"/>
<text x="223.00" y="312.20" font-size="8.0" text-anchor="end">40</text>
<line x1="226.70" y1="250.00" x2="228.70" y2="250.00" stroke="#4d4d4d" stroke-width="0.6"/>
<line x1="226.70" y1="267.00" x2="228.70" y2="267.00" stroke="#4d4d4d" stroke-width="0.6"/>
<line x1="226.70" y1="283.90" x2="228.70" y2="283.90" stroke="#4d4d4d" stroke-width="0.6"/>
<line x1="226.70" y1="300.90" x2="228.70" y2="300.90" stroke="#4d4d4d" stroke-width="0.6"/>
<line x1="226.70" y1="317.80" x2="228.70" y2="317.80" stroke="#4d4d4d" stroke-width="0.6"/>
<rect x="233.60" y="324.40" width="19.60" height="1.80" fill="#bdbdbd"/>
<rect x="263.00" y="251.90" width="19.00" height="74.30" fill="#7b9bd0"/>
<circle cx="243.40" cy="324.40" r="1.4" fill="#111"/>
<line x1="272.20" y1="245.60" x2="272.20" y2="258.20" stroke="#333" stroke-width="0.75"/>
<line x1="270.60" y1="245.60" x2="273.80" y2="245.60" stroke="#2a2a2a" stroke-width="0.7"/>
<line x1="270.60" y1="258.20" x2="273.80" y2="258.20" stroke="#2a2a2a" stroke-width="0.7"/>
<circle cx="272.20" cy="245.60" r="1.2" fill="#111"/>
<circle cx="272.20" cy="250.00" r="1.2" fill="#111"/>
<circle cx="272.20" cy="256.00" r="1.2" fill="#111"/>
<circle cx="272.20" cy="258.00" r="1.2" fill="#111"/>
<text x="272.20" y="242.50" font-size="8.4" text-anchor="middle">b</text>
<text x="243.30" y="319.50" font-size="8.4" text-anchor="middle">a</text>
<text x="246.90" y="331.50" font-size="9" text-anchor="end" transform="rotate(-45 246.90 331.50)" textLength="23.4" lengthAdjust="spacingAndGlyphs">Conv.</text>
<text x="269.90" y="333.00" font-size="9" text-anchor="end" transform="rotate(-45 269.90 333.00)" textLength="21.3" lengthAdjust="spacingAndGlyphs">Fix. +</text>
<text x="285.00" y="331.40" font-size="9" text-anchor="end" transform="rotate(-45 285.00 331.40)" textLength="43.5" lengthAdjust="spacingAndGlyphs">high temp.</text>
<text x="357.20" y="212.80" font-size="8.4" text-anchor="middle" font-style="italic" textLength="86.3" lengthAdjust="spacingAndGlyphs">Amborella trichopoda</text>
<text x="357.50" y="222.60" font-size="8.4" text-anchor="middle" textLength="25.0" lengthAdjust="spacingAndGlyphs">leaves</text>
<text x="301.50" y="341.80" font-size="8.4" transform="rotate(-90 301.50 341.80)" textLength="117.0" lengthAdjust="spacingAndGlyphs">Protoplasts released (×1,000)</text>
<line x1="328.50" y1="240.40" x2="328.50" y2="326.53" stroke="#4d4d4d" stroke-width="0.65"/>
<line x1="328.17" y1="326.20" x2="385.60" y2="326.20" stroke="#4d4d4d" stroke-width="0.65"/>
<line x1="325.40" y1="240.70" x2="328.50" y2="240.70" stroke="#4d4d4d" stroke-width="0.6"/>
<text x="322.80" y="243.50" font-size="8.0" text-anchor="end">250</text>
<line x1="325.40" y1="257.80" x2="328.50" y2="257.80" stroke="#4d4d4d" stroke-width="0.6"/>
<text x="322.80" y="260.60" font-size="8.0" text-anchor="end">200</text>
<line x1="325.40" y1="275.30" x2="328.50" y2="275.30" stroke="#4d4d4d" stroke-width="0.6"/>
<text x="322.80" y="278.10" font-size="8.0" text-anchor="end">150</text>
<line x1="325.40" y1="291.60" x2="328.50" y2="291.60" stroke="#4d4d4d" stroke-width="0.6"/>
<text x="322.80" y="294.40" font-size="8.0" text-anchor="end">100</text>
<line x1="325.40" y1="309.00" x2="328.50" y2="309.00" stroke="#4d4d4d" stroke-width="0.6"/>
<text x="322.80" y="311.80" font-size="8.0" text-anchor="end">50</text>
<rect x="333.60" y="324.00" width="19.60" height="2.20" fill="#bdbdbd"/>
<rect x="363.00" y="259.00" width="18.30" height="67.20" fill="#7b9bd0"/>
<circle cx="343.40" cy="324.00" r="1.4" fill="#111"/>
<line x1="372.20" y1="246.10" x2="372.20" y2="271.40" stroke="#333" stroke-width="0.75"/>
<line x1="370.60" y1="246.10" x2="373.80" y2="246.10" stroke="#2a2a2a" stroke-width="0.7"/>
<line x1="370.60" y1="271.40" x2="373.80" y2="271.40" stroke="#2a2a2a" stroke-width="0.7"/>
<circle cx="372.20" cy="240.50" r="1.2" fill="#111"/>
<circle cx="372.20" cy="254.70" r="1.2" fill="#111"/>
<circle cx="372.20" cy="282.00" r="1.2" fill="#111"/>
<text x="372.20" y="242.50" font-size="8.4" text-anchor="middle">b</text>
<text x="343.30" y="318.60" font-size="8.4" text-anchor="middle">a</text>
<text x="346.90" y="331.50" font-size="9" text-anchor="end" transform="rotate(-45 346.90 331.50)" textLength="23.4" lengthAdjust="spacingAndGlyphs">Conv.</text>
<text x="369.90" y="333.00" font-size="9" text-anchor="end" transform="rotate(-45 369.90 333.00)" textLength="21.3" lengthAdjust="spacingAndGlyphs">Fix. +</text>
<text x="385.00" y="331.40" font-size="9" text-anchor="end" transform="rotate(-45 385.00 331.40)" textLength="43.5" lengthAdjust="spacingAndGlyphs">high temp.</text>
<text x="457.20" y="212.80" font-size="8.4" text-anchor="middle" font-style="italic" textLength="76.8" lengthAdjust="spacingAndGlyphs">Nymphaea colorata</text>
<text x="457.50" y="222.60" font-size="8.4" text-anchor="middle" textLength="25.0" lengthAdjust="spacingAndGlyphs">leaves</text>
<text x="402.80" y="341.80" font-size="8.4" transform="rotate(-90 402.80 341.80)" textLength="117.0" lengthAdjust="spacingAndGlyphs">Protoplasts released (×1,000)</text>
<line x1="428.70" y1="240.10" x2="428.70" y2="326.53" stroke="#4d4d4d" stroke-width="0.65"/>
<line x1="428.37" y1="326.20" x2="485.60" y2="326.20" stroke="#4d4d4d" stroke-width="0.65"/>
<line x1="425.60" y1="240.40" x2="428.70" y2="240.40" stroke="#4d4d4d" stroke-width="0.6"/>
<line x1="425.60" y1="251.20" x2="428.70" y2="251.20" stroke="#4d4d4d" stroke-width="0.6"/>
<text x="423.00" y="254.00" font-size="8.0" text-anchor="end">140</text>
<line x1="425.60" y1="272.10" x2="428.70" y2="272.10" stroke="#4d4d4d" stroke-width="0.6"/>
<text x="423.00" y="274.90" font-size="8.0" text-anchor="end">100</text>
<line x1="425.60" y1="293.30" x2="428.70" y2="293.30" stroke="#4d4d4d" stroke-width="0.6"/>
<text x="423.00" y="296.10" font-size="8.0" text-anchor="end">60</text>
<line x1="425.60" y1="315.50" x2="428.70" y2="315.50" stroke="#4d4d4d" stroke-width="0.6"/>
<text x="423.00" y="318.30" font-size="8.0" text-anchor="end">20</text>
<line x1="426.70" y1="261.80" x2="428.70" y2="261.80" stroke="#4d4d4d" stroke-width="0.6"/>
<line x1="426.70" y1="282.80" x2="428.70" y2="282.80" stroke="#4d4d4d" stroke-width="0.6"/>
<line x1="426.70" y1="304.40" x2="428.70" y2="304.40" stroke="#4d4d4d" stroke-width="0.6"/>
<rect x="463.00" y="254.00" width="18.60" height="72.20" fill="#7b9bd0"/>
<circle cx="443.30" cy="326.20" r="1.4" fill="#111"/>
<line x1="472.20" y1="244.40" x2="472.20" y2="261.80" stroke="#333" stroke-width="0.75"/>
<line x1="470.60" y1="244.40" x2="473.80" y2="244.40" stroke="#2a2a2a" stroke-width="0.7"/>
<line x1="470.60" y1="261.80" x2="473.80" y2="261.80" stroke="#2a2a2a" stroke-width="0.7"/>
<circle cx="472.20" cy="244.40" r="1.2" fill="#111"/>
<circle cx="472.20" cy="248.20" r="1.2" fill="#111"/>
<circle cx="472.20" cy="271.80" r="1.2" fill="#111"/>
<text x="472.20" y="238.60" font-size="8.4" text-anchor="middle">b</text>
<text x="443.30" y="321.80" font-size="8.4" text-anchor="middle">a</text>
<text x="446.90" y="331.50" font-size="9" text-anchor="end" transform="rotate(-45 446.90 331.50)" textLength="23.4" lengthAdjust="spacingAndGlyphs">Conv.</text>
<text x="469.90" y="333.00" font-size="9" text-anchor="end" transform="rotate(-45 469.90 333.00)" textLength="21.3" lengthAdjust="spacingAndGlyphs">Fix. +</text>
<text x="485.00" y="331.40" font-size="9" text-anchor="end" transform="rotate(-45 485.00 331.40)" textLength="43.5" lengthAdjust="spacingAndGlyphs">high temp.</text>
<text x="556.60" y="222.60" font-size="8.4" text-anchor="middle" textLength="27.5" lengthAdjust="spacingAndGlyphs">Leaves</text>
<text x="500.90" y="341.80" font-size="8.4" transform="rotate(-90 500.90 341.80)" textLength="117.0" lengthAdjust="spacingAndGlyphs">Protoplasts released (×1,000)</text>
<line x1="527.80" y1="240.10" x2="527.80" y2="326.53" stroke="#4d4d4d" stroke-width="0.65"/>
<line x1="527.47" y1="326.20" x2="584.80" y2="326.20" stroke="#4d4d4d" stroke-width="0.65"/>
<line x1="524.70" y1="240.40" x2="527.80" y2="240.40" stroke="#4d4d4d" stroke-width="0.6"/>
<line x1="524.70" y1="257.80" x2="527.80" y2="257.80" stroke="#4d4d4d" stroke-width="0.6"/>
<text x="522.10" y="260.60" font-size="8.0" text-anchor="end">200</text>
<line x1="524.70" y1="275.30" x2="527.80" y2="275.30" stroke="#4d4d4d" stroke-width="0.6"/>
<text x="522.10" y="278.10" font-size="8.0" text-anchor="end">150</text>
<line x1="524.70" y1="291.60" x2="527.80" y2="291.60" stroke="#4d4d4d" stroke-width="0.6"/>
<text x="522.10" y="294.40" font-size="8.0" text-anchor="end">100</text>
<line x1="524.70" y1="309.00" x2="527.80" y2="309.00" stroke="#4d4d4d" stroke-width="0.6"/>
<text x="522.10" y="311.80" font-size="8.0" text-anchor="end">50</text>
<rect x="562.30" y="261.80" width="18.30" height="64.40" fill="#7b9bd0"/>
<line x1="533.00" y1="325.90" x2="552.00" y2="325.90" stroke="#bdbdbd" stroke-width="0.8"/>
<circle cx="542.70" cy="325.40" r="1.4" fill="#111"/>
<line x1="571.50" y1="257.00" x2="571.50" y2="267.40" stroke="#333" stroke-width="0.75"/>
<line x1="569.90" y1="257.00" x2="573.10" y2="257.00" stroke="#2a2a2a" stroke-width="0.7"/>
<line x1="569.90" y1="267.40" x2="573.10" y2="267.40" stroke="#2a2a2a" stroke-width="0.7"/>
<circle cx="571.50" cy="248.00" r="1.2" fill="#111"/>
<circle cx="571.50" cy="266.20" r="1.2" fill="#111"/>
<text x="571.50" y="251.70" font-size="8.4" text-anchor="middle">b</text>
<text x="542.70" y="320.70" font-size="8.4" text-anchor="middle">a</text>
<text x="546.20" y="331.50" font-size="9" text-anchor="end" transform="rotate(-45 546.20 331.50)" textLength="23.4" lengthAdjust="spacingAndGlyphs">Conv.</text>
<text x="569.20" y="333.00" font-size="9" text-anchor="end" transform="rotate(-45 569.20 333.00)" textLength="21.3" lengthAdjust="spacingAndGlyphs">Fix. +</text>
<text x="584.30" y="331.40" font-size="9" text-anchor="end" transform="rotate(-45 584.30 331.40)" textLength="43.5" lengthAdjust="spacingAndGlyphs">high temp.</text>
<text x="656.40" y="222.50" font-size="8.4" text-anchor="middle" textLength="25.5" lengthAdjust="spacingAndGlyphs">Stems</text>
<text x="596.60" y="341.80" font-size="8.4" transform="rotate(-90 596.60 341.80)" textLength="117.0" lengthAdjust="spacingAndGlyphs">Protoplasts released (×1,000)</text>
<line x1="627.80" y1="240.00" x2="627.80" y2="326.53" stroke="#4d4d4d" stroke-width="0.65"/>
<line x1="627.47" y1="326.20" x2="685.00" y2="326.20" stroke="#4d4d4d" stroke-width="0.65"/>
<line x1="624.70" y1="240.30" x2="627.80" y2="240.30" stroke="#4d4d4d" stroke-width="0.6"/>
<line x1="624.70" y1="250.30" x2="627.80" y2="250.30" stroke="#4d4d4d" stroke-width="0.6"/>
<text x="622.10" y="253.10" font-size="8.0" text-anchor="end">1,000</text>
<line x1="624.70" y1="269.10" x2="627.80" y2="269.10" stroke="#4d4d4d" stroke-width="0.6"/>
<text x="622.10" y="271.90" font-size="8.0" text-anchor="end">600</text>
<line x1="624.70" y1="288.10" x2="627.80" y2="288.10" stroke="#4d4d4d" stroke-width="0.6"/>
<text x="622.10" y="290.90" font-size="8.0" text-anchor="end">400</text>
<line x1="624.70" y1="307.30" x2="627.80" y2="307.30" stroke="#4d4d4d" stroke-width="0.6"/>
<text x="622.10" y="310.10" font-size="8.0" text-anchor="end">200</text>
<line x1="625.80" y1="259.50" x2="627.80" y2="259.50" stroke="#4d4d4d" stroke-width="0.6"/>
<line x1="625.80" y1="278.70" x2="627.80" y2="278.70" stroke="#4d4d4d" stroke-width="0.6"/>
<line x1="625.80" y1="297.70" x2="627.80" y2="297.70" stroke="#4d4d4d" stroke-width="0.6"/>
<line x1="625.80" y1="316.80" x2="627.80" y2="316.80" stroke="#4d4d4d" stroke-width="0.6"/>
<rect x="633.10" y="320.00" width="19.00" height="6.20" fill="#bdbdbd"/>
<rect x="662.20" y="250.80" width="18.60" height="75.40" fill="#7b9bd0"/>
<line x1="642.70" y1="315.40" x2="642.70" y2="321.50" stroke="#333" stroke-width="0.75"/>
<line x1="641.10" y1="315.40" x2="644.30" y2="315.40" stroke="#2a2a2a" stroke-width="0.7"/>
<line x1="641.10" y1="321.50" x2="644.30" y2="321.50" stroke="#2a2a2a" stroke-width="0.7"/>
<circle cx="642.70" cy="308.00" r="1.2" fill="#111"/>
<circle cx="642.70" cy="315.40" r="1.2" fill="#111"/>
<circle cx="642.70" cy="321.20" r="1.2" fill="#111"/>
<line x1="671.50" y1="244.70" x2="671.50" y2="255.10" stroke="#333" stroke-width="0.75"/>
<line x1="669.90" y1="244.70" x2="673.10" y2="244.70" stroke="#2a2a2a" stroke-width="0.7"/>
<line x1="669.90" y1="255.10" x2="673.10" y2="255.10" stroke="#2a2a2a" stroke-width="0.7"/>
<circle cx="671.50" cy="244.70" r="1.2" fill="#111"/>
<circle cx="671.50" cy="248.00" r="1.2" fill="#111"/>
<circle cx="671.50" cy="255.00" r="1.2" fill="#111"/>
<text x="671.50" y="242.40" font-size="8.4" text-anchor="middle">b</text>
<text x="642.70" y="313.70" font-size="8.4" text-anchor="middle">a</text>
<text x="646.20" y="331.50" font-size="9" text-anchor="end" transform="rotate(-45 646.20 331.50)" textLength="23.4" lengthAdjust="spacingAndGlyphs">Conv.</text>
<text x="669.20" y="333.00" font-size="9" text-anchor="end" transform="rotate(-45 669.20 333.00)" textLength="21.3" lengthAdjust="spacingAndGlyphs">Fix. +</text>
<text x="684.30" y="331.40" font-size="9" text-anchor="end" transform="rotate(-45 684.30 331.40)" textLength="43.5" lengthAdjust="spacingAndGlyphs">high temp.</text>
<text x="369.20" y="9.30" font-size="12.8" font-weight="bold" fill="#000" stroke="#000" stroke-width="0.45" stroke-linejoin="round">d</text>
<text x="433.50" y="21.80" font-size="8.4" text-anchor="middle" textLength="64.5" lengthAdjust="spacingAndGlyphs">Rice tiller nodes</text>
<text x="376.60" y="146.30" font-size="8.4" transform="rotate(-90 376.60 146.30)" textLength="117.0" lengthAdjust="spacingAndGlyphs">Protoplasts released (×1,000)</text>
<line x1="404.80" y1="35.10" x2="404.80" y2="140.33" stroke="#4d4d4d" stroke-width="0.65"/>
<line x1="404.47" y1="140.00" x2="455.80" y2="140.00" stroke="#4d4d4d" stroke-width="0.65"/>
<line x1="400.00" y1="35.40" x2="404.80" y2="35.40" stroke="#4d4d4d" stroke-width="0.6"/>
<text x="397.40" y="38.20" font-size="8.0" text-anchor="end">150</text>
<line x1="400.00" y1="56.40" x2="404.80" y2="56.40" stroke="#4d4d4d" stroke-width="0.6"/>
<text x="397.40" y="59.20" font-size="8.0" text-anchor="end">120</text>
<line x1="400.00" y1="77.20" x2="404.80" y2="77.20" stroke="#4d4d4d" stroke-width="0.6"/>
<text x="397.40" y="80.00" font-size="8.0" text-anchor="end">90</text>
<line x1="400.00" y1="98.20" x2="404.80" y2="98.20" stroke="#4d4d4d" stroke-width="0.6"/>
<text x="397.40" y="101.00" font-size="8.0" text-anchor="end">60</text>
<line x1="400.00" y1="119.30" x2="404.80" y2="119.30" stroke="#4d4d4d" stroke-width="0.6"/>
<text x="397.40" y="122.10" font-size="8.0" text-anchor="end">30</text>
<rect x="434.30" y="54.90" width="18.50" height="85.10" fill="#c9bb9b"/>
<line x1="443.60" y1="39.80" x2="443.60" y2="69.00" stroke="#333" stroke-width="0.75"/>
<line x1="442.00" y1="39.80" x2="445.20" y2="39.80" stroke="#2a2a2a" stroke-width="0.7"/>
<line x1="442.00" y1="69.00" x2="445.20" y2="69.00" stroke="#2a2a2a" stroke-width="0.7"/>
<circle cx="443.60" cy="39.80" r="1.2" fill="#111"/>
<circle cx="443.60" cy="54.60" r="1.2" fill="#111"/>
<path d="M441.8 69.9 L445.4 69.9 L443.6 66.6 Z" fill="#111"/>
<circle cx="417.70" cy="140.00" r="1.45" fill="#111"/>
<text x="443.80" y="33.20" font-size="8.4" text-anchor="middle">b</text>
<text x="417.70" y="134.50" font-size="8.4" text-anchor="middle">a</text>
<text x="422.50" y="148.40" font-size="9" text-anchor="end" transform="rotate(-45 422.50 148.40)" textLength="22.4" lengthAdjust="spacingAndGlyphs">C + M</text>
<text x="449.60" y="148.20" font-size="9" text-anchor="end" textLength="47.5" lengthAdjust="spacingAndGlyphs" transform="rotate(-45 449.60 148.20)">C + M<tspan fill="#d2c5a5"> + S+P</tspan></text>
<text x="534.00" y="12.20" font-size="8.4" text-anchor="middle" textLength="34.5" lengthAdjust="spacingAndGlyphs">Wild rice</text>
<text x="534.00" y="21.80" font-size="8.4" text-anchor="middle" textLength="59.0" lengthAdjust="spacingAndGlyphs">rhizome nodes</text>
<text x="481.60" y="146.30" font-size="8.4" transform="rotate(-90 481.60 146.30)" textLength="117.0" lengthAdjust="spacingAndGlyphs">Protoplasts released (×1,000)</text>
<line x1="509.80" y1="35.50" x2="509.80" y2="140.33" stroke="#4d4d4d" stroke-width="0.65"/>
<line x1="509.47" y1="140.00" x2="560.80" y2="140.00" stroke="#4d4d4d" stroke-width="0.65"/>
<line x1="505.00" y1="35.80" x2="509.80" y2="35.80" stroke="#4d4d4d" stroke-width="0.6"/>
<text x="502.40" y="38.60" font-size="8.0" text-anchor="end">200</text>
<line x1="505.00" y1="61.80" x2="509.80" y2="61.80" stroke="#4d4d4d" stroke-width="0.6"/>
<text x="502.40" y="64.60" font-size="8.0" text-anchor="end">150</text>
<line x1="505.00" y1="88.00" x2="509.80" y2="88.00" stroke="#4d4d4d" stroke-width="0.6"/>
<text x="502.40" y="90.80" font-size="8.0" text-anchor="end">100</text>
<line x1="505.00" y1="114.20" x2="509.80" y2="114.20" stroke="#4d4d4d" stroke-width="0.6"/>
<text x="502.40" y="117.00" font-size="8.0" text-anchor="end">50</text>
<rect x="513.10" y="126.10" width="18.90" height="13.90" fill="#7b9bd0"/>
<rect x="539.30" y="62.10" width="18.50" height="77.90" fill="#c9bb9b"/>
<line x1="548.50" y1="46.60" x2="548.50" y2="76.30" stroke="#333" stroke-width="0.75"/>
<line x1="546.90" y1="46.60" x2="550.10" y2="46.60" stroke="#2a2a2a" stroke-width="0.7"/>
<line x1="546.90" y1="76.30" x2="550.10" y2="76.30" stroke="#2a2a2a" stroke-width="0.7"/>
<circle cx="548.50" cy="48.00" r="1.2" fill="#111"/>
<circle cx="548.50" cy="59.00" r="1.2" fill="#111"/>
<circle cx="548.50" cy="80.00" r="1.2" fill="#111"/>
<line x1="522.50" y1="123.60" x2="522.50" y2="128.50" stroke="#333" stroke-width="0.75"/>
<line x1="520.90" y1="123.60" x2="524.10" y2="123.60" stroke="#2a2a2a" stroke-width="0.7"/>
<line x1="520.90" y1="128.50" x2="524.10" y2="128.50" stroke="#2a2a2a" stroke-width="0.7"/>
<circle cx="522.50" cy="124.00" r="1.2" fill="#111"/>
<circle cx="522.50" cy="126.00" r="1.2" fill="#111"/>
<circle cx="522.50" cy="128.00" r="1.2" fill="#111"/>
<text x="548.50" y="40.50" font-size="8.4" text-anchor="middle">b</text>
<text x="522.50" y="119.30" font-size="8.4" text-anchor="middle">a</text>
<text x="527.30" y="148.40" font-size="9" text-anchor="end" transform="rotate(-45 527.30 148.40)" textLength="22.4" lengthAdjust="spacingAndGlyphs">C + M</text>
<text x="553.50" y="148.20" font-size="9" text-anchor="end" textLength="49.5" lengthAdjust="spacingAndGlyphs" transform="rotate(-45 553.50 148.20)">C + M<tspan fill="#d2c5a5"> + S + P</tspan></text>
<text x="640.30" y="11.90" font-size="8.4" text-anchor="middle" font-style="italic" textLength="82.7" lengthAdjust="spacingAndGlyphs">Selaginella martensii</text>
<text x="640.30" y="21.80" font-size="8.4" text-anchor="middle" textLength="51.0" lengthAdjust="spacingAndGlyphs">shoot apices</text>
<text x="586.50" y="146.30" font-size="8.4" transform="rotate(-90 586.50 146.30)" textLength="117.0" lengthAdjust="spacingAndGlyphs">Protoplasts released (×1,000)</text>
<line x1="616.00" y1="35.10" x2="616.00" y2="140.33" stroke="#4d4d4d" stroke-width="0.65"/>
<line x1="615.67" y1="140.00" x2="667.00" y2="140.00" stroke="#4d4d4d" stroke-width="0.65"/>
<line x1="611.20" y1="35.40" x2="616.00" y2="35.40" stroke="#4d4d4d" stroke-width="0.6"/>
<text x="608.60" y="38.20" font-size="8.0" text-anchor="end">200</text>
<line x1="611.20" y1="61.40" x2="616.00" y2="61.40" stroke="#4d4d4d" stroke-width="0.6"/>
<text x="608.60" y="64.20" font-size="8.0" text-anchor="end">150</text>
<line x1="611.20" y1="87.30" x2="616.00" y2="87.30" stroke="#4d4d4d" stroke-width="0.6"/>
<text x="608.60" y="90.10" font-size="8.0" text-anchor="end">100</text>
<line x1="611.20" y1="113.20" x2="616.00" y2="113.20" stroke="#4d4d4d" stroke-width="0.6"/>
<text x="608.60" y="116.00" font-size="8.0" text-anchor="end">50</text>
<rect x="619.10" y="121.30" width="19.00" height="18.70" fill="#7b9bd0"/>
<rect x="645.10" y="45.00" width="19.00" height="95.00" fill="#c9bb9b"/>
<line x1="654.50" y1="40.40" x2="654.50" y2="48.50" stroke="#333" stroke-width="0.75"/>
<line x1="652.90" y1="40.40" x2="656.10" y2="40.40" stroke="#2a2a2a" stroke-width="0.7"/>
<line x1="652.90" y1="48.50" x2="656.10" y2="48.50" stroke="#2a2a2a" stroke-width="0.7"/>
<circle cx="654.50" cy="41.00" r="1.2" fill="#111"/>
<circle cx="654.50" cy="45.50" r="1.2" fill="#111"/>
<circle cx="654.50" cy="47.50" r="1.2" fill="#111"/>
<line x1="628.50" y1="119.20" x2="628.50" y2="123.60" stroke="#333" stroke-width="0.75"/>
<line x1="626.90" y1="119.20" x2="630.10" y2="119.20" stroke="#2a2a2a" stroke-width="0.7"/>
<line x1="626.90" y1="123.60" x2="630.10" y2="123.60" stroke="#2a2a2a" stroke-width="0.7"/>
<circle cx="628.50" cy="119.50" r="1.2" fill="#111"/>
<circle cx="628.50" cy="121.50" r="1.2" fill="#111"/>
<circle cx="628.50" cy="123.00" r="1.2" fill="#111"/>
<text x="654.50" y="36.60" font-size="8.4" text-anchor="middle">b</text>
<text x="628.50" y="114.50" font-size="8.4" text-anchor="middle">a</text>
<text x="633.30" y="148.40" font-size="9" text-anchor="end" transform="rotate(-45 633.30 148.40)" textLength="22.4" lengthAdjust="spacingAndGlyphs">C + M</text>
<text x="659.50" y="148.20" font-size="9" text-anchor="end" textLength="49.5" lengthAdjust="spacingAndGlyphs" transform="rotate(-45 659.50 148.20)">C + M<tspan fill="#d2c5a5"> + S + P</tspan></text>
<text x="-0.30" y="387.70" font-size="12.8" font-weight="bold" fill="#000" stroke="#000" stroke-width="0.45" stroke-linejoin="round">e</text>
<text x="59.20" y="390.90" font-size="8.4" textLength="274.5" lengthAdjust="spacingAndGlyphs">Step-by-step schematic of depletion of RNase in the digestion buffer</text>
<line x1="30.00" y1="394.40" x2="363.00" y2="394.40" stroke="#4d4d4d" stroke-width="0.7"/>
<text x="112.60" y="406.60" font-size="8.4" textLength="103.7" lengthAdjust="spacingAndGlyphs">Enzymes before depletion</text>
<text x="244.50" y="406.60" font-size="8.4" textLength="118.5" lengthAdjust="spacingAndGlyphs">GMP-Sepharose regeneration</text>
<text x="14.70" y="469.40" font-size="7" transform="rotate(-90 14.70 469.40)" textLength="33.3" lengthAdjust="spacingAndGlyphs">Sepharose</text>
<polyline points="20.0,442.1 23.8,443.7 20.0,445.4 23.8,447.0 20.0,448.6 23.8,450.3 20.0,451.9 23.8,453.5 20.0,455.2 23.8,456.8 20.0,458.4 23.8,460.1 20.0,461.7" fill="none" stroke="#333" stroke-width="0.6"/>
<line x1="23.80" y1="452.50" x2="33.00" y2="452.50" stroke="#333" stroke-width="0.6"/>
<text x="33.9" y="454.8" font-size="7">NH<tspan font-size="4.3" dy="1.3">2</tspan></text>
<circle cx="71.7" cy="426.4" r="8.7" fill="#f6c243" stroke="#222" stroke-width="0.5"/>
<text x="71.70" y="429.03" font-size="7.3" text-anchor="middle" textLength="14.4" lengthAdjust="spacingAndGlyphs">GMP</text>
<path d="M55.2 452.6 H95.3" fill="none" stroke="#33496e" stroke-width="1.1" stroke-dasharray="3 2.2" marker-end="url(#arr)"/>
<path d="M71.7 438 Q72.5 450 83.5 452.4" fill="none" stroke="#33496e" stroke-width="1.1" stroke-dasharray="3 2.2"/>
<text x="78.00" y="462.10" font-size="7" text-anchor="middle" textLength="43.6" lengthAdjust="spacingAndGlyphs">GMP coupling</text>
<polyline points="106.7,441.6 109.9,443.2 106.7,444.8 109.9,446.4 106.7,447.9 109.9,449.5 106.7,451.1 109.9,452.7 106.7,454.3 109.9,455.9 106.7,457.4 109.9,459.0 106.7,460.6" fill="none" stroke="#333" stroke-width="0.6"/>
<line x1="109.90" y1="452.30" x2="118.40" y2="452.30" stroke="#333" stroke-width="0.6"/>
<circle cx="127.1" cy="451.7" r="8.7" fill="#f6c243" stroke="#222" stroke-width="0.5"/>
<text x="127.10" y="454.33" font-size="7.3" text-anchor="middle" textLength="14.4" lengthAdjust="spacingAndGlyphs">GMP</text>
<polygon points="168.31,418.60 168.13,419.12 167.74,419.60 167.29,420.03 166.91,420.43 166.71,420.85 166.67,421.34 166.72,421.90 166.71,422.47 166.54,422.98 166.17,423.38 165.66,423.64 165.11,423.84 164.62,424.06 164.23,424.39 163.91,424.86 163.60,425.41 163.20,425.92 162.70,426.28 162.11,426.40 161.47,426.31 160.86,426.11 160.28,425.95 159.72,425.90 159.16,426.00 158.56,426.15 157.94,426.22 157.35,426.12 156.86,425.79 156.47,425.28 156.17,424.73 155.88,424.24 155.52,423.89 155.05,423.67 154.50,423.50 153.95,423.28 153.52,422.95 153.27,422.48 153.20,421.94 153.21,421.39 153.17,420.90 152.97,420.46 152.59,420.05 152.12,419.62 151.70,419.14 151.47,418.60 151.49,418.05 151.74,417.53 152.08,417.05 152.38,416.58 152.55,416.10 152.58,415.55 152.57,414.95 152.64,414.36 152.91,413.85 153.39,413.48 154.03,413.28 154.70,413.17 155.31,413.06 155.80,412.86 156.20,412.52 156.57,412.11 156.99,411.73 157.50,411.49 158.07,411.46 158.67,411.62 159.23,411.84 159.75,412.00 160.25,412.00 160.77,411.83 161.34,411.58 161.95,411.37 162.56,411.33 163.10,411.51 163.55,411.87 163.94,412.30 164.33,412.67 164.80,412.93 165.38,413.09 166.03,413.22 166.66,413.44 167.14,413.81 167.41,414.32 167.47,414.93 167.41,415.55 167.37,416.12 167.45,416.63 167.68,417.09 167.99,417.56 168.24,418.07" fill="#12958f" stroke="#16403e" stroke-width="0.6" stroke-linejoin="round"/>
<polygon points="151.6,424.4 151.5,429.2 155.7,431.5 151.5,433.8 151.6,438.6 147.5,436.1 143.4,438.6 143.5,433.8 139.3,431.5 143.5,429.2 143.4,424.4 147.5,426.9" fill="#f0777a" stroke="#222" stroke-width="0.5" stroke-linejoin="round"/>
<polygon points="183.6,420.4 183.5,425.2 187.7,427.5 183.5,429.8 183.6,434.6 179.5,432.1 175.4,434.6 175.5,429.8 171.3,427.5 175.5,425.2 175.4,420.4 179.5,422.9" fill="#f0777a" stroke="#222" stroke-width="0.5" stroke-linejoin="round"/>
<path d="M-6.5 -5.3 Q-1 -7.3 2.6 -5.8 Q6.6 -3.6 6 0 Q5 5.2 -2.4 6.9 Q0.7 1.4 -1.1 -1.2 Q-3 -3.7 -6.5 -5.3 Z" transform="translate(165.0 435.3) rotate(0) scale(1.0)" fill="#3a83c9" stroke="#1d3557" stroke-width="0.5"/>
<path d="M139.7 452.6 H179.8" fill="none" stroke="#33496e" stroke-width="1.1" stroke-dasharray="3 2.2" marker-end="url(#arr)"/>
<path d="M156.2 438.6 Q157 450.5 166 452.4" fill="none" stroke="#33496e" stroke-width="1.1" stroke-dasharray="3 2.2"/>
<polyline points="191.0,441.6 194.2,443.2 191.0,444.8 194.2,446.4 191.0,447.9 194.2,449.5 191.0,451.1 194.2,452.7 191.0,454.3 194.2,455.9 191.0,457.4 194.2,459.0 191.0,460.6" fill="none" stroke="#333" stroke-width="0.6"/>
<line x1="194.20" y1="452.30" x2="202.20" y2="452.30" stroke="#333" stroke-width="0.6"/>
<ellipse cx="215.6" cy="460.2" rx="8" ry="5.6" transform="rotate(35 215.6 460.2)" fill="#3a83c9" stroke="#1d3557" stroke-width="0.5"/>
<circle cx="210.9" cy="451.3" r="8.7" fill="#f6c243" stroke="#222" stroke-width="0.5"/>
<text x="210.90" y="453.93" font-size="7.3" text-anchor="middle" textLength="14.4" lengthAdjust="spacingAndGlyphs">GMP</text>
<path d="M228.6 452.6 H268.3" fill="none" stroke="#33496e" stroke-width="1.1" stroke-dasharray="3 2.2" marker-end="url(#arr)"/>
<path d="M255.3 438 Q256 450.5 264 452.4" fill="none" stroke="#33496e" stroke-width="1.1" stroke-dasharray="3 2.2"/>
<path d="M234.5 452.8 Q244.5 454 248 466.4" fill="none" stroke="#33496e" stroke-width="1.1" stroke-dasharray="3 2.2" marker-end="url(#arr)"/>
<circle cx="247.0" cy="422.5" r="8.7" fill="#f6c243" stroke="#222" stroke-width="0.5"/>
<text x="247.00" y="425.13" font-size="7.3" text-anchor="middle" textLength="14.4" lengthAdjust="spacingAndGlyphs">GMP</text>
<circle cx="268.3" cy="422.5" r="8.7" fill="#f6c243" stroke="#222" stroke-width="0.5"/>
<text x="268.30" y="425.13" font-size="7.3" text-anchor="middle" textLength="14.4" lengthAdjust="spacingAndGlyphs">GMP</text>
<line x1="259.49" y1="429.80" x2="262.49" y2="432.60" stroke="#111" stroke-width="0.75"/>
<line x1="259.49" y1="432.60" x2="262.49" y2="429.80" stroke="#111" stroke-width="0.75"/>
<line x1="274.11" y1="429.80" x2="277.11" y2="432.60" stroke="#111" stroke-width="0.75"/>
<line x1="274.11" y1="432.60" x2="277.11" y2="429.80" stroke="#111" stroke-width="0.75"/>
<polyline points="281.4,442.0 284.6,443.6 281.4,445.2 284.6,446.9 281.4,448.5 284.6,450.1 281.4,451.8 284.6,453.4 281.4,455.0 284.6,456.6 281.4,458.2 284.6,459.9 281.4,461.5" fill="none" stroke="#333" stroke-width="0.6"/>
<line x1="284.60" y1="452.30" x2="293.10" y2="452.30" stroke="#333" stroke-width="0.6"/>
<circle cx="301.8" cy="452.2" r="8.7" fill="#f6c243" stroke="#222" stroke-width="0.5"/>
<text x="301.80" y="454.83" font-size="7.3" text-anchor="middle" textLength="14.4" lengthAdjust="spacingAndGlyphs">GMP</text>
<ellipse cx="331.3" cy="426.2" rx="8.3" ry="6" transform="rotate(-35 331.3 426.2)" fill="#3a83c9" stroke="#1d3557" stroke-width="0.5"/>
<circle cx="323.9" cy="431.8" r="8.7" fill="#f6c243" stroke="#222" stroke-width="0.5"/>
<text x="323.90" y="434.43" font-size="7.3" text-anchor="middle" textLength="14.4" lengthAdjust="spacingAndGlyphs">GMP</text>
<ellipse cx="332.2" cy="464.4" rx="8.3" ry="6" transform="rotate(-35 332.2 464.4)" fill="#3a83c9" stroke="#1d3557" stroke-width="0.5"/>
<circle cx="325.1" cy="469.6" r="8.7" fill="#f6c243" stroke="#222" stroke-width="0.5"/>
<text x="325.10" y="472.23" font-size="7.3" text-anchor="middle" textLength="14.4" lengthAdjust="spacingAndGlyphs">GMP</text>
<line x1="316.29" y1="476.90" x2="319.29" y2="479.70" stroke="#111" stroke-width="0.75"/>
<line x1="316.29" y1="479.70" x2="319.29" y2="476.90" stroke="#111" stroke-width="0.75"/>
<line x1="330.91" y1="476.90" x2="333.91" y2="479.70" stroke="#111" stroke-width="0.75"/>
<line x1="330.91" y1="479.70" x2="333.91" y2="476.90" stroke="#111" stroke-width="0.75"/>
<polygon points="251.35,479.50 251.21,479.95 251.25,480.41 251.44,480.92 251.66,481.48 251.76,482.04 251.65,482.56 251.32,483.00 250.86,483.34 250.40,483.66 250.03,484.01 249.78,484.47 249.59,485.03 249.38,485.62 249.04,486.13 248.55,486.46 247.94,486.58 247.28,486.53 246.64,486.43 246.07,486.41 245.54,486.52 245.03,486.75 244.48,486.99 243.91,487.11 243.34,487.02 242.82,486.72 242.37,486.29 241.96,485.86 241.55,485.55 241.08,485.40 240.53,485.37 239.92,485.35 239.34,485.24 238.87,484.96 238.56,484.53 238.37,484.02 238.20,483.52 237.96,483.10 237.56,482.76 237.03,482.45 236.46,482.10 236.01,481.67 235.77,481.15 235.79,480.59 235.99,480.03 236.24,479.50 236.39,479.00 236.40,478.49 236.29,477.95 236.18,477.38 236.22,476.82 236.48,476.33 236.96,475.95 237.57,475.68 238.17,475.46 238.65,475.20 238.99,474.85 239.23,474.40 239.47,473.91 239.79,473.47 240.25,473.19 240.81,473.09 241.41,473.12 241.97,473.16 242.47,473.11 242.94,472.88 243.41,472.52 243.92,472.13 244.49,471.85 245.08,471.78 245.64,471.94 246.16,472.25 246.63,472.59 247.12,472.84 247.66,472.95 248.28,472.98 248.93,473.03 249.52,473.21 249.98,473.57 250.25,474.10 250.37,474.72 250.43,475.32 250.55,475.84 250.80,476.26 251.18,476.63 251.59,477.02 251.90,477.46 252.01,477.97 251.89,478.50 251.63,479.02" fill="#12958f" stroke="#16403e" stroke-width="0.6" stroke-linejoin="round"/>
<polygon points="269.8,467.8 269.7,472.6 273.9,474.9 269.7,477.2 269.8,482.0 265.7,479.5 261.6,482.0 261.7,477.2 257.5,474.9 261.7,472.6 261.6,467.8 265.7,470.3" fill="#f0777a" stroke="#222" stroke-width="0.5" stroke-linejoin="round"/>
<polygon points="255.3,484.1 258.6,487.6 263.2,486.2 261.8,490.8 265.3,494.1 260.6,495.2 259.5,499.9 256.2,496.4 251.6,497.8 253.0,493.2 249.5,489.9 254.2,488.8" fill="#f0777a" stroke="#222" stroke-width="0.5" stroke-linejoin="round"/>
<text x="217.90" y="508.00" font-size="7" textLength="78.0" lengthAdjust="spacingAndGlyphs">RNase-depleted enzymes</text>
<rect x="35.8" y="475.8" width="157.1" height="34.9" rx="4.5" fill="#e6e6e6"/>
<circle cx="47.6" cy="485.4" r="6.2" fill="#f6c243" stroke="#222" stroke-width="0.5"/>
<text x="47.60" y="487.67" font-size="6.3" text-anchor="middle" textLength="12.4" lengthAdjust="spacingAndGlyphs">GMP</text>
<text x="57.60" y="487.10" font-size="7" textLength="22.3" lengthAdjust="spacingAndGlyphs">5'-GMP</text>
<polygon points="96.2,479.4 97.9,482.6 101.6,482.5 99.7,485.6 101.6,488.7 97.9,488.6 96.2,491.8 94.5,488.6 90.8,488.7 92.7,485.6 90.8,482.5 94.5,482.6" fill="#f0777a" stroke="#222" stroke-width="0.5" stroke-linejoin="round"/>
<text x="104.60" y="487.10" font-size="7" textLength="28.9" lengthAdjust="spacingAndGlyphs">Cellulase</text>
<polygon points="154.95,486.00 154.66,486.38 154.40,486.74 154.26,487.09 154.23,487.46 154.26,487.87 154.24,488.28 154.08,488.64 153.78,488.93 153.36,489.12 152.92,489.27 152.54,489.42 152.26,489.65 152.07,489.98 151.90,490.39 151.69,490.78 151.38,491.08 150.99,491.23 150.55,491.25 150.11,491.21 149.69,491.20 149.30,491.29 148.91,491.49 148.48,491.74 148.02,491.94 147.56,491.99 147.12,491.85 146.74,491.56 146.42,491.21 146.11,490.90 145.78,490.67 145.38,490.54 144.94,490.44 144.52,490.29 144.19,490.02 143.99,489.65 143.93,489.20 143.94,488.74 143.93,488.34 143.81,488.01 143.56,487.73 143.24,487.45 142.94,487.13 142.76,486.77 142.75,486.38 142.89,486.00 143.08,485.64 143.22,485.29 143.24,484.93 143.15,484.53 143.00,484.08 142.91,483.62 142.98,483.19 143.22,482.84 143.60,482.58 144.03,482.38 144.42,482.19 144.73,481.93 144.97,481.60 145.21,481.22 145.49,480.87 145.87,480.64 146.33,480.58 146.82,480.66 147.30,480.82 147.73,480.94 148.13,480.96 148.51,480.86 148.90,480.69 149.32,480.56 149.74,480.55 150.13,480.70 150.47,480.97 150.77,481.28 151.06,481.53 151.40,481.68 151.83,481.72 152.32,481.72 152.81,481.78 153.23,481.96 153.53,482.26 153.69,482.65 153.78,483.07 153.89,483.45 154.09,483.78 154.40,484.09 154.75,484.40 155.06,484.75 155.21,485.16 155.17,485.58" fill="#12958f" stroke="#16403e" stroke-width="0.6" stroke-linejoin="round"/>
<text x="158.70" y="487.10" font-size="7" textLength="29.5" lengthAdjust="spacingAndGlyphs">Pectinase</text>
<path d="M-6.5 -5.3 Q-1 -7.3 2.6 -5.8 Q6.6 -3.6 6 0 Q5 5.2 -2.4 6.9 Q0.7 1.4 -1.1 -1.2 Q-3 -3.7 -6.5 -5.3 Z" transform="translate(48.9 501.5) rotate(0) scale(0.72)" fill="#3a83c9" stroke="#1d3557" stroke-width="0.5"/>
<text x="57.60" y="503.60" font-size="7" textLength="19.4" lengthAdjust="spacingAndGlyphs">RNase</text>
<circle cx="96.5" cy="501.0" r="6.2" fill="#f6c243" stroke="#222" stroke-width="0.5"/>
<text x="96.50" y="503.27" font-size="6.3" text-anchor="middle" textLength="12.4" lengthAdjust="spacingAndGlyphs">GMP</text>
<line x1="89.79" y1="505.80" x2="92.79" y2="508.60" stroke="#111" stroke-width="0.75"/>
<line x1="89.79" y1="508.60" x2="92.79" y2="505.80" stroke="#111" stroke-width="0.75"/>
<line x1="100.21" y1="505.80" x2="103.21" y2="508.60" stroke="#111" stroke-width="0.75"/>
<line x1="100.21" y1="508.60" x2="103.21" y2="505.80" stroke="#111" stroke-width="0.75"/>
<text x="104.60" y="503.60" font-size="7" textLength="31.8" lengthAdjust="spacingAndGlyphs">2'(3')-GMP</text>
<text x="384.00" y="386.90" font-size="12.8" font-weight="bold" fill="#000" stroke="#000" stroke-width="0.45" stroke-linejoin="round">f</text>
<text x="474.40" y="390.60" font-size="8.4" text-anchor="middle" textLength="55.5" lengthAdjust="spacingAndGlyphs">Maize anthers</text>
<text x="391.30" y="448.80" font-size="8.4" text-anchor="middle" transform="rotate(-90 391.30 448.80)">RIN</text>
<line x1="411.60" y1="395.20" x2="411.60" y2="507.33" stroke="#4d4d4d" stroke-width="0.65"/>
<line x1="411.27" y1="507.00" x2="534.90" y2="507.00" stroke="#4d4d4d" stroke-width="0.65"/>
<line x1="408.80" y1="395.50" x2="411.60" y2="395.50" stroke="#4d4d4d" stroke-width="0.6"/>
<text x="406.20" y="398.30" font-size="8.0" text-anchor="end">10</text>
<line x1="408.80" y1="417.40" x2="411.60" y2="417.40" stroke="#4d4d4d" stroke-width="0.6"/>
<text x="406.20" y="420.20" font-size="8.0" text-anchor="end">8</text>
<line x1="408.80" y1="440.00" x2="411.60" y2="440.00" stroke="#4d4d4d" stroke-width="0.6"/>
<text x="406.20" y="442.80" font-size="8.0" text-anchor="end">6</text>
<line x1="408.80" y1="462.50" x2="411.60" y2="462.50" stroke="#4d4d4d" stroke-width="0.6"/>
<text x="406.20" y="465.30" font-size="8.0" text-anchor="end">4</text>
<line x1="408.80" y1="484.30" x2="411.60" y2="484.30" stroke="#4d4d4d" stroke-width="0.6"/>
<text x="406.20" y="487.10" font-size="8.0" text-anchor="end">2</text>
<rect x="416.00" y="402.90" width="22.40" height="104.10" fill="#eedfd6"/>
<rect x="446.90" y="438.70" width="22.40" height="68.30" fill="#eda07b"/>
<rect x="478.00" y="461.90" width="22.20" height="45.10" fill="#de7763"/>
<rect x="508.90" y="432.70" width="21.90" height="74.30" fill="#c42e35"/>
<line x1="427.20" y1="401.50" x2="427.20" y2="404.00" stroke="#333" stroke-width="0.75"/>
<line x1="425.60" y1="401.50" x2="428.80" y2="401.50" stroke="#2a2a2a" stroke-width="0.7"/>
<line x1="425.60" y1="404.00" x2="428.80" y2="404.00" stroke="#2a2a2a" stroke-width="0.7"/>
<circle cx="427.20" cy="401.50" r="1.2" fill="#111"/>
<circle cx="427.20" cy="403.00" r="1.2" fill="#111"/>
<circle cx="427.20" cy="404.50" r="1.2" fill="#111"/>
<line x1="458.10" y1="427.70" x2="458.10" y2="450.20" stroke="#333" stroke-width="0.75"/>
<line x1="456.50" y1="427.70" x2="459.70" y2="427.70" stroke="#2a2a2a" stroke-width="0.7"/>
<line x1="456.50" y1="450.20" x2="459.70" y2="450.20" stroke="#2a2a2a" stroke-width="0.7"/>
<circle cx="458.10" cy="426.10" r="1.2" fill="#111"/>
<circle cx="458.10" cy="449.30" r="1.2" fill="#111"/>
<circle cx="458.10" cy="473.40" r="1.2" fill="#111"/>
<line x1="489.10" y1="456.40" x2="489.10" y2="465.20" stroke="#333" stroke-width="0.75"/>
<line x1="487.50" y1="456.40" x2="490.70" y2="456.40" stroke="#2a2a2a" stroke-width="0.7"/>
<line x1="487.50" y1="465.20" x2="490.70" y2="465.20" stroke="#2a2a2a" stroke-width="0.7"/>
<circle cx="489.10" cy="458.00" r="1.2" fill="#111"/>
<circle cx="489.10" cy="461.00" r="1.2" fill="#111"/>
<circle cx="489.10" cy="463.50" r="1.2" fill="#111"/>
<circle cx="489.10" cy="478.00" r="1.2" fill="#111"/>
<line x1="519.90" y1="428.30" x2="519.90" y2="436.50" stroke="#333" stroke-width="0.75"/>
<line x1="518.30" y1="428.30" x2="521.50" y2="428.30" stroke="#2a2a2a" stroke-width="0.7"/>
<line x1="518.30" y1="436.50" x2="521.50" y2="436.50" stroke="#2a2a2a" stroke-width="0.7"/>
<circle cx="519.90" cy="432.40" r="1.2" fill="#111"/>
<circle cx="519.90" cy="436.50" r="1.2" fill="#111"/>
<circle cx="519.90" cy="442.50" r="1.2" fill="#111"/>
<text x="427.20" y="399.60" font-size="8.4" text-anchor="middle">a</text>
<text x="458.10" y="422.80" font-size="8.4" text-anchor="middle">bc</text>
<text x="489.10" y="451.00" font-size="8.4" text-anchor="middle">c</text>
<text x="519.90" y="422.80" font-size="8.4" text-anchor="middle">b</text>
<text x="426.60" y="516.60" font-size="9.6" text-anchor="middle">1</text>
<text x="458.60" y="516.60" font-size="9.6" text-anchor="middle">2</text>
<text x="490.00" y="516.60" font-size="9.6" text-anchor="middle">3</text>
<text x="521.10" y="516.60" font-size="9.6" text-anchor="middle">4</text>
<rect x="547.50" y="449.90" width="12.70" height="9.80" fill="#eedfd6"/>
<text x="553.90" y="457.60" font-size="8.4" text-anchor="middle">1</text>
<text x="563.50" y="456.90" font-size="7" textLength="10.8" lengthAdjust="spacingAndGlyphs">Fix.</text>
<rect x="547.50" y="462.70" width="12.70" height="9.80" fill="#eda07b"/>
<text x="553.90" y="470.40" font-size="8.4" text-anchor="middle">2</text>
<text x="563.50" y="469.70" font-size="7" textLength="35.5" lengthAdjust="spacingAndGlyphs">Fix. + buffer</text>
<rect x="547.50" y="475.40" width="12.70" height="9.80" fill="#de7763"/>
<text x="553.90" y="483.10" font-size="8.4" text-anchor="middle">3</text>
<text x="563.50" y="482.40" font-size="7" textLength="76.5" lengthAdjust="spacingAndGlyphs">Fix. + dig. conv. enzymes</text>
<rect x="547.50" y="488.10" width="12.70" height="9.80" fill="#c42e35"/>
<text x="553.90" y="495.80" font-size="8.4" text-anchor="middle">4</text>
<text x="563.50" y="495.10" font-size="7" textLength="109.5" lengthAdjust="spacingAndGlyphs">Fix. + dig. RNase-depleted enzymes</text>
</svg>
</body></html>
